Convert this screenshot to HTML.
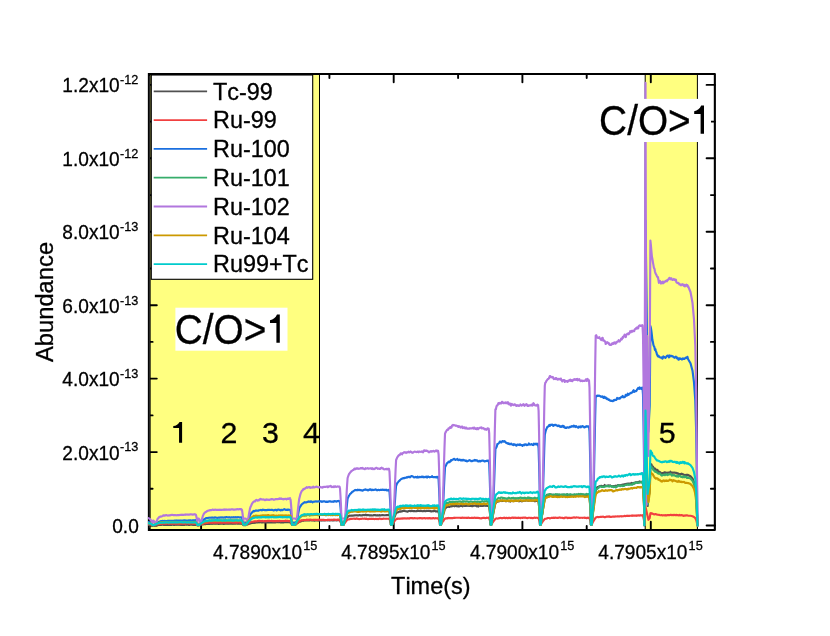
<!DOCTYPE html>
<html><head><meta charset="utf-8"><title>Abundance vs Time</title>
<style>
html,body{margin:0;padding:0;background:#fff;}
body{width:830px;height:636px;overflow:hidden;font-family:"Liberation Sans",sans-serif;}
svg{display:block;will-change:transform;}
svg text{font-family:"Liberation Sans",sans-serif;fill:#000;font-kerning:none;stroke:#000;stroke-width:0.3px;}
</style></head><body>
<svg width="830" height="636" viewBox="0 0 830 636">
<rect x="0" y="0" width="830" height="636" fill="#fff"/>
<!-- shaded regions -->
<rect x="150" y="74" width="169.5" height="456" fill="#FFFF80"/>
<rect x="645" y="74" width="52.4" height="456" fill="#FFFF80"/>
<g stroke="#000" stroke-width="1">
<line x1="319.5" y1="74" x2="319.5" y2="530"/>
<line x1="645.2" y1="74" x2="645.2" y2="530"/>
<line x1="697.4" y1="74" x2="697.4" y2="530"/>
</g>
<!-- ticks -->
<g stroke="#000" stroke-linecap="round">
<line x1="265.5" y1="530.0" x2="265.5" y2="521.8" stroke-width="1.9"/>
<line x1="265.5" y1="74.0" x2="265.5" y2="82.2" stroke-width="1.9"/>
<line x1="393.7" y1="530.0" x2="393.7" y2="521.8" stroke-width="1.9"/>
<line x1="393.7" y1="74.0" x2="393.7" y2="82.2" stroke-width="1.9"/>
<line x1="522.4" y1="530.0" x2="522.4" y2="521.8" stroke-width="1.9"/>
<line x1="522.4" y1="74.0" x2="522.4" y2="82.2" stroke-width="1.9"/>
<line x1="650.8" y1="530.0" x2="650.8" y2="521.8" stroke-width="1.9"/>
<line x1="650.8" y1="74.0" x2="650.8" y2="82.2" stroke-width="1.9"/>
<line x1="201.1" y1="530.0" x2="201.1" y2="526.0" stroke-width="1.9"/>
<line x1="201.1" y1="74.0" x2="201.1" y2="78.0" stroke-width="1.9"/>
<line x1="329.4" y1="530.0" x2="329.4" y2="526.0" stroke-width="1.9"/>
<line x1="329.4" y1="74.0" x2="329.4" y2="78.0" stroke-width="1.9"/>
<line x1="458.1" y1="530.0" x2="458.1" y2="526.0" stroke-width="1.9"/>
<line x1="458.1" y1="74.0" x2="458.1" y2="78.0" stroke-width="1.9"/>
<line x1="586.7" y1="530.0" x2="586.7" y2="526.0" stroke-width="1.9"/>
<line x1="586.7" y1="74.0" x2="586.7" y2="78.0" stroke-width="1.9"/>
<line x1="149.3" y1="525.5" x2="156.8" y2="525.5" stroke-width="1.9"/>
<line x1="714.9" y1="525.5" x2="706.6" y2="525.5" stroke-width="1.9"/>
<line x1="149.3" y1="452.1" x2="156.8" y2="452.1" stroke-width="1.9"/>
<line x1="714.9" y1="452.1" x2="706.6" y2="452.1" stroke-width="1.9"/>
<line x1="149.3" y1="378.6" x2="156.8" y2="378.6" stroke-width="1.9"/>
<line x1="714.9" y1="378.6" x2="706.6" y2="378.6" stroke-width="1.9"/>
<line x1="149.3" y1="305.2" x2="156.8" y2="305.2" stroke-width="1.9"/>
<line x1="714.9" y1="305.2" x2="706.6" y2="305.2" stroke-width="1.9"/>
<line x1="149.3" y1="231.8" x2="156.8" y2="231.8" stroke-width="1.9"/>
<line x1="714.9" y1="231.8" x2="706.6" y2="231.8" stroke-width="1.9"/>
<line x1="149.3" y1="158.3" x2="156.8" y2="158.3" stroke-width="1.9"/>
<line x1="714.9" y1="158.3" x2="706.6" y2="158.3" stroke-width="1.9"/>
<line x1="149.3" y1="84.9" x2="156.8" y2="84.9" stroke-width="1.9"/>
<line x1="714.9" y1="84.9" x2="706.6" y2="84.9" stroke-width="1.9"/>
<line x1="149.3" y1="488.8" x2="152.6" y2="488.8" stroke-width="1.9"/>
<line x1="714.9" y1="488.8" x2="710.9" y2="488.8" stroke-width="1.9"/>
<line x1="149.3" y1="415.4" x2="152.6" y2="415.4" stroke-width="1.9"/>
<line x1="714.9" y1="415.4" x2="710.9" y2="415.4" stroke-width="1.9"/>
<line x1="149.3" y1="341.9" x2="152.6" y2="341.9" stroke-width="1.9"/>
<line x1="714.9" y1="341.9" x2="710.9" y2="341.9" stroke-width="1.9"/>
<line x1="149.3" y1="268.5" x2="152.6" y2="268.5" stroke-width="1.9"/>
<line x1="714.9" y1="268.5" x2="710.9" y2="268.5" stroke-width="1.9"/>
<line x1="149.3" y1="195.1" x2="152.6" y2="195.1" stroke-width="1.9"/>
<line x1="714.9" y1="195.1" x2="710.9" y2="195.1" stroke-width="1.9"/>
<line x1="149.3" y1="121.6" x2="152.6" y2="121.6" stroke-width="1.9"/>
<line x1="714.9" y1="121.6" x2="710.9" y2="121.6" stroke-width="1.9"/>
</g>
<!-- legend -->
<rect x="151.3" y="75" width="161.4" height="204.3" fill="#fff" stroke="#000" stroke-width="1.1"/>
<line x1="153.7" y1="91.3" x2="207.1" y2="91.3" stroke="#515151" stroke-width="1.8"/>
<text x="213.0" y="99.6" font-size="23.4">Tc-99</text>
<line x1="153.7" y1="120.1" x2="207.1" y2="120.1" stroke="#F14040" stroke-width="1.8"/>
<text x="213.0" y="128.4" font-size="23.4">Ru-99</text>
<line x1="153.7" y1="148.9" x2="207.1" y2="148.9" stroke="#1A6FDF" stroke-width="1.8"/>
<text x="213.0" y="157.2" font-size="23.4">Ru-100</text>
<line x1="153.7" y1="177.7" x2="207.1" y2="177.7" stroke="#37AD6B" stroke-width="1.8"/>
<text x="213.0" y="186.0" font-size="23.4">Ru-101</text>
<line x1="153.7" y1="206.5" x2="207.1" y2="206.5" stroke="#B177DE" stroke-width="1.8"/>
<text x="213.0" y="214.8" font-size="23.4">Ru-102</text>
<line x1="153.7" y1="235.3" x2="207.1" y2="235.3" stroke="#CC9900" stroke-width="1.8"/>
<text x="213.0" y="243.6" font-size="23.4">Ru-104</text>
<line x1="153.7" y1="264.1" x2="207.1" y2="264.1" stroke="#00CBCC" stroke-width="1.8"/>
<text x="213.0" y="272.4" font-size="23.4">Ru99+Tc</text>
<!-- frame -->
<g stroke="#000" stroke-linecap="round" fill="none">
<path d="M149.3,74 L714.85,74 L714.85,530 L149.3,530" stroke-width="2.1" stroke-linejoin="round"/>
<line x1="149.25" y1="72.95" x2="149.25" y2="531.05" stroke-width="2.8" stroke-linecap="butt"/>
<line x1="149.4" y1="76" x2="149.4" y2="528" stroke="#484848" stroke-width="0.6" stroke-linecap="butt"/>
</g>
<!-- curves -->
<clipPath id="cp"><rect x="147.9" y="70" width="568" height="461"/></clipPath>
<g clip-path="url(#cp)" fill="none" stroke-width="2.15" stroke-linejoin="round" stroke-linecap="round">
<path d="M148.4,525.0 L150.0,525.1 L151.4,525.2 L152.4,525.4 L153.0,525.4 L153.4,525.4 L153.8,525.4 L154.3,525.4 L154.8,525.3 L155.3,525.2 L155.8,525.2 L156.3,525.1 L156.8,525.1 L157.3,525.1 L157.8,525.1 L158.3,525.0 L158.8,525.0 L159.3,525.0 L159.8,524.8 L160.3,524.9 L160.8,524.9 L161.3,524.9 L161.8,524.8 L162.3,524.7 L162.8,524.7 L163.3,524.8 L163.8,524.8 L164.3,524.8 L164.8,524.8 L165.3,524.8 L165.8,524.8 L166.3,524.8 L166.8,524.8 L167.3,524.9 L167.8,524.9 L168.3,524.9 L168.8,524.8 L169.3,524.8 L169.8,524.8 L170.3,524.8 L170.8,524.8 L171.3,524.8 L171.8,524.8 L172.3,524.7 L172.8,524.7 L173.3,524.8 L173.8,524.8 L174.3,524.8 L174.8,524.8 L175.3,524.7 L175.8,524.8 L176.3,524.8 L176.8,524.7 L177.3,524.7 L177.8,524.8 L178.3,524.7 L178.8,524.8 L179.3,524.8 L179.8,524.7 L180.3,524.8 L180.8,524.8 L181.3,524.9 L181.8,524.9 L182.3,524.9 L182.8,524.8 L183.3,524.8 L183.8,524.8 L184.3,524.8 L184.8,524.8 L185.3,524.7 L185.8,524.7 L186.3,524.7 L186.8,524.8 L187.3,524.7 L187.8,524.7 L188.3,524.8 L188.8,524.8 L189.3,524.9 L189.8,524.7 L190.3,524.6 L190.8,524.7 L191.3,524.7 L191.8,524.7 L192.3,524.8 L192.8,524.9 L193.3,524.8 L193.8,524.8 L194.3,524.8 L194.8,524.9 L195.3,524.9 L195.5,524.8 L196.0,524.8 L196.5,525.0 L197.0,525.1 L197.4,525.4 L197.4,525.3 L198.6,525.3 L199.0,525.3 L199.5,525.2 L200.0,525.0 L200.5,524.9 L201.0,524.8 L201.5,524.7 L202.0,524.5 L202.5,524.4 L203.0,524.4 L203.5,524.2 L204.0,524.1 L204.5,524.1 L205.0,524.0 L205.5,524.1 L206.0,524.0 L206.5,523.9 L207.0,523.9 L207.5,523.9 L208.0,523.9 L208.5,523.9 L209.0,523.8 L209.5,523.8 L210.0,523.9 L210.5,523.8 L211.0,523.7 L211.5,523.8 L212.0,523.9 L212.5,523.8 L213.0,523.7 L213.5,523.7 L214.0,523.7 L214.5,523.7 L215.0,523.8 L215.5,523.7 L216.0,523.8 L216.5,523.7 L217.0,523.7 L217.5,523.7 L218.0,523.8 L218.5,523.8 L219.0,523.8 L219.5,523.8 L220.0,523.7 L220.5,523.8 L221.0,523.7 L221.5,523.7 L222.0,523.7 L222.5,523.7 L223.0,523.8 L223.5,523.8 L224.0,523.8 L224.5,523.8 L225.0,523.7 L225.5,523.7 L226.0,523.7 L226.5,523.7 L227.0,523.7 L227.5,523.7 L228.0,523.8 L228.5,523.6 L229.0,523.5 L229.5,523.6 L230.0,523.7 L230.5,523.7 L231.0,523.6 L231.5,523.7 L232.0,523.7 L232.5,523.6 L233.0,523.8 L233.5,523.7 L234.0,523.7 L234.5,523.6 L235.0,523.6 L235.5,523.6 L236.0,523.5 L236.5,523.5 L237.0,523.6 L237.5,523.5 L238.0,523.6 L238.5,523.7 L239.0,523.7 L239.5,523.7 L240.0,523.6 L240.5,523.6 L241.0,523.6 L241.5,523.6 L242.0,523.7 L242.5,524.1 L243.0,524.5 L243.4,525.1 L243.4,525.1 L245.6,525.1 L246.0,525.1 L246.5,524.9 L247.0,524.6 L247.5,524.4 L248.0,524.2 L248.5,524.0 L249.0,523.8 L249.5,523.6 L250.0,523.6 L250.5,523.3 L251.0,523.1 L251.5,523.1 L252.0,522.9 L252.5,522.8 L253.0,522.8 L253.5,522.8 L254.0,522.6 L254.5,522.8 L255.0,522.5 L255.5,522.6 L256.0,522.5 L256.5,522.5 L257.0,522.5 L257.5,522.5 L258.0,522.5 L258.5,522.3 L259.0,522.2 L259.5,522.3 L260.0,522.3 L260.5,522.2 L261.0,522.2 L261.5,522.4 L262.0,522.4 L262.5,522.5 L263.0,522.3 L263.5,522.3 L264.0,522.2 L264.5,522.3 L265.0,522.5 L265.5,522.3 L266.0,522.5 L266.5,522.5 L267.0,522.4 L267.5,522.2 L268.0,522.4 L268.5,522.3 L269.0,522.3 L269.5,522.3 L270.0,522.3 L270.5,522.4 L271.0,522.3 L271.5,522.4 L272.0,522.5 L272.5,522.5 L273.0,522.4 L273.5,522.3 L274.0,522.4 L274.5,522.3 L275.0,522.3 L275.5,522.4 L276.0,522.3 L276.5,522.1 L277.0,522.1 L277.5,522.0 L278.0,522.2 L278.5,522.3 L279.0,522.2 L279.5,522.2 L280.0,522.3 L280.5,522.3 L281.0,522.4 L281.5,522.3 L282.0,522.4 L282.5,522.4 L283.0,522.5 L283.5,522.3 L284.0,522.3 L284.5,522.1 L285.0,522.1 L285.5,522.0 L286.0,522.2 L286.5,522.1 L287.0,522.2 L287.5,522.2 L288.0,522.2 L288.5,522.1 L289.0,522.2 L289.5,522.3 L290.0,522.3 L290.1,522.2 L290.6,522.4 L291.1,523.0 L291.6,523.9 L292.0,524.8 L292.0,524.9 L294.8,524.9 L295.2,524.9 L295.7,524.4 L296.2,524.0 L296.7,523.6 L297.2,523.2 L297.7,523.0 L298.2,522.5 L298.7,522.2 L299.2,522.0 L299.7,521.8 L300.2,521.5 L300.7,521.4 L301.2,521.2 L301.7,520.9 L302.2,520.7 L302.7,520.7 L303.2,520.8 L303.7,520.6 L304.2,520.5 L304.7,520.5 L305.2,520.3 L305.7,520.4 L306.2,520.3 L306.7,520.5 L307.2,520.2 L307.7,520.4 L308.2,520.3 L308.7,520.2 L309.2,520.4 L309.7,520.4 L310.2,520.2 L310.7,520.2 L311.2,520.3 L311.7,520.3 L312.2,520.4 L312.7,520.5 L313.2,520.5 L313.7,520.5 L314.2,520.6 L314.7,520.6 L315.2,520.5 L315.7,520.2 L316.2,520.4 L316.7,520.5 L317.2,520.4 L317.7,520.3 L318.2,520.6 L318.7,520.3 L319.2,520.4 L319.7,520.6 L320.2,520.4 L320.7,520.4 L321.2,520.6 L321.7,520.4 L322.2,520.4 L322.7,520.5 L323.2,520.3 L323.7,520.3 L324.2,520.3 L324.7,520.4 L325.2,520.4 L325.7,520.3 L326.2,520.2 L326.7,520.2 L327.2,520.3 L327.7,520.3 L328.2,520.2 L328.7,520.2 L329.2,520.5 L329.7,520.5 L330.2,520.5 L330.7,520.1 L331.2,520.2 L331.7,520.3 L332.2,520.5 L332.7,520.4 L333.2,520.3 L333.7,520.3 L334.2,520.1 L334.7,520.3 L335.2,520.3 L335.7,520.2 L336.2,520.3 L336.7,520.5 L337.2,520.2 L337.7,520.1 L338.2,520.2 L338.7,520.2 L339.2,520.2 L339.5,520.2 L340.0,520.5 L340.5,521.5 L341.0,522.9 L341.4,524.4 L341.4,524.7 L343.2,524.7 L343.6,524.7 L344.1,523.4 L344.6,522.3 L345.1,521.2 L345.6,520.1 L346.1,519.4 L346.6,518.5 L347.1,517.8 L347.6,516.9 L348.1,516.4 L348.6,516.2 L349.1,515.7 L349.6,515.6 L350.1,515.7 L350.6,515.7 L351.1,515.5 L351.6,515.5 L352.1,515.6 L352.6,515.6 L353.1,515.6 L353.6,515.5 L354.1,515.4 L354.6,515.5 L355.1,515.4 L355.6,515.3 L356.1,515.2 L356.6,515.3 L357.1,515.3 L357.6,515.3 L358.1,515.3 L358.6,515.3 L359.1,515.3 L359.6,515.1 L360.1,515.3 L360.6,515.4 L361.1,515.4 L361.6,515.3 L362.1,515.4 L362.6,515.2 L363.1,514.9 L363.6,515.1 L364.1,515.0 L364.6,515.2 L365.1,515.1 L365.6,514.7 L366.1,514.8 L366.6,515.3 L367.1,515.2 L367.6,515.0 L368.1,515.0 L368.6,515.2 L369.1,515.3 L369.6,515.2 L370.1,515.4 L370.6,515.4 L371.1,515.3 L371.6,515.3 L372.1,515.5 L372.6,515.5 L373.1,515.5 L373.6,515.1 L374.1,515.1 L374.6,515.2 L375.1,515.1 L375.6,515.3 L376.1,515.3 L376.6,515.3 L377.1,515.2 L377.6,515.5 L378.1,515.5 L378.6,515.3 L379.1,515.2 L379.6,515.5 L380.1,515.3 L380.6,515.3 L381.1,515.3 L381.6,515.2 L382.1,515.0 L382.6,515.0 L383.1,515.1 L383.6,515.2 L384.1,515.3 L384.6,515.2 L385.1,515.2 L385.6,515.2 L386.1,515.1 L386.6,515.1 L387.1,515.0 L387.6,515.1 L388.1,514.9 L388.6,514.9 L389.0,515.0 L389.5,515.5 L390.0,517.6 L390.5,520.2 L390.9,523.4 L390.9,524.7 L391.7,524.7 L392.1,524.7 L392.6,522.6 L393.1,521.0 L393.6,519.4 L394.1,518.0 L394.6,516.8 L395.1,515.6 L395.6,514.3 L396.1,513.0 L396.6,512.4 L397.1,512.6 L397.6,512.4 L398.1,512.3 L398.6,511.9 L399.1,511.7 L399.6,511.3 L400.1,511.6 L400.6,511.7 L401.1,511.2 L401.6,511.3 L402.1,511.4 L402.6,511.1 L403.1,510.9 L403.6,510.9 L404.1,511.0 L404.6,510.9 L405.1,511.1 L405.6,511.2 L406.1,511.3 L406.6,511.4 L407.1,511.6 L407.6,511.6 L408.1,511.2 L408.6,511.1 L409.1,511.0 L409.6,510.9 L410.1,511.0 L410.6,511.1 L411.1,511.2 L411.6,510.9 L412.1,510.8 L412.6,511.0 L413.1,511.1 L413.6,511.1 L414.1,511.1 L414.6,511.0 L415.1,511.2 L415.6,511.2 L416.1,511.2 L416.6,511.0 L417.1,511.1 L417.6,510.6 L418.1,510.7 L418.6,510.9 L419.1,510.8 L419.6,511.0 L420.1,511.1 L420.6,510.9 L421.1,510.9 L421.6,511.0 L422.1,511.1 L422.6,511.2 L423.1,511.2 L423.6,511.0 L424.1,511.0 L424.6,511.0 L425.1,511.2 L425.6,511.2 L426.1,511.0 L426.6,510.8 L427.1,510.9 L427.6,510.8 L428.1,510.8 L428.6,510.9 L429.1,510.9 L429.6,511.0 L430.1,511.1 L430.6,511.0 L431.1,511.4 L431.6,511.2 L432.1,511.3 L432.6,511.2 L433.1,511.3 L433.6,510.7 L434.1,510.7 L434.6,510.9 L435.1,511.1 L435.6,511.5 L436.1,511.3 L436.6,511.4 L437.1,511.3 L437.6,511.3 L438.1,511.3 L438.1,511.0 L438.6,511.7 L439.1,514.6 L439.6,518.2 L440.0,522.6 L440.0,524.7 L440.6,524.7 L441.0,524.7 L441.5,521.9 L442.0,519.6 L442.5,517.7 L443.0,515.6 L443.5,513.7 L444.0,512.2 L444.5,510.2 L445.0,508.4 L445.5,508.2 L446.0,507.7 L446.5,507.2 L447.0,507.0 L447.5,506.9 L448.0,506.9 L448.5,506.5 L449.0,506.8 L449.5,506.9 L450.0,506.5 L450.5,506.4 L451.0,506.2 L451.5,506.4 L452.0,506.1 L452.5,506.2 L453.0,506.0 L453.5,505.9 L454.0,506.1 L454.5,506.3 L455.0,506.1 L455.5,505.9 L456.0,506.1 L456.5,506.0 L457.0,506.1 L457.5,506.3 L458.0,506.4 L458.5,506.0 L459.0,506.5 L459.5,506.2 L460.0,506.2 L460.5,505.9 L461.0,505.9 L461.5,505.6 L462.0,506.1 L462.5,506.3 L463.0,505.9 L463.5,505.6 L464.0,505.4 L464.5,505.9 L465.0,505.8 L465.5,505.8 L466.0,505.8 L466.5,505.8 L467.0,505.6 L467.5,505.8 L468.0,505.5 L468.5,505.7 L469.0,505.9 L469.5,506.0 L470.0,505.9 L470.5,505.7 L471.0,505.8 L471.5,505.7 L472.0,506.1 L472.5,506.2 L473.0,506.0 L473.5,505.8 L474.0,505.7 L474.5,505.6 L475.0,505.6 L475.5,505.8 L476.0,505.9 L476.5,506.0 L477.0,506.4 L477.5,506.0 L478.0,505.9 L478.5,506.5 L479.0,505.8 L479.5,505.7 L480.0,505.8 L480.5,505.9 L481.0,505.9 L481.5,505.8 L482.0,505.9 L482.5,505.9 L483.0,506.0 L483.5,505.5 L484.0,505.5 L484.5,505.6 L485.0,505.5 L485.5,505.4 L486.0,505.8 L486.5,505.6 L487.0,505.9 L487.5,506.0 L488.0,506.0 L488.5,506.0 L488.7,505.8 L489.2,506.8 L489.7,510.7 L490.2,515.6 L490.6,521.6 L490.6,524.7 L491.0,524.7 L491.4,524.7 L491.9,520.9 L492.4,518.0 L492.9,515.3 L493.4,512.6 L493.9,510.1 L494.4,507.9 L494.9,505.3 L495.4,503.1 L495.9,503.0 L496.4,502.2 L496.9,501.9 L497.4,501.5 L497.9,501.7 L498.4,501.4 L498.9,501.4 L499.4,500.9 L499.9,500.9 L500.4,500.8 L500.9,500.4 L501.4,500.9 L501.9,501.1 L502.4,500.5 L502.9,500.9 L503.4,500.8 L503.9,501.0 L504.4,501.0 L504.9,500.6 L505.4,500.8 L505.9,501.3 L506.4,501.0 L506.9,500.8 L507.4,500.5 L507.9,500.5 L508.4,500.8 L508.9,501.3 L509.4,501.2 L509.9,501.2 L510.4,501.6 L510.9,501.1 L511.4,500.9 L511.9,501.0 L512.4,501.1 L512.9,500.8 L513.4,500.5 L513.9,500.8 L514.4,500.9 L514.9,500.6 L515.4,500.7 L515.9,500.6 L516.4,500.9 L516.9,500.8 L517.4,500.8 L517.9,500.7 L518.4,501.1 L518.9,501.3 L519.4,501.0 L519.9,501.1 L520.4,500.8 L520.9,500.8 L521.4,501.0 L521.9,501.3 L522.4,500.9 L522.9,500.8 L523.4,500.9 L523.9,500.5 L524.4,500.6 L524.9,500.5 L525.4,500.7 L525.9,500.5 L526.4,500.1 L526.9,500.4 L527.4,500.6 L527.9,500.6 L528.4,500.8 L528.9,500.7 L529.4,500.6 L529.9,500.7 L530.4,500.3 L530.9,500.3 L531.4,500.5 L531.9,500.8 L532.4,500.7 L532.9,500.7 L533.4,500.5 L533.9,500.7 L534.4,501.1 L534.9,500.7 L535.4,501.2 L535.9,500.8 L536.4,500.7 L536.9,500.7 L537.4,500.9 L537.9,500.4 L538.1,500.6 L538.6,501.8 L539.1,506.8 L539.6,513.0 L540.0,520.5 L540.0,524.7 L540.4,524.7 L540.8,524.6 L541.3,520.1 L541.8,516.5 L542.3,513.1 L542.8,510.2 L543.3,506.9 L543.8,503.8 L544.3,501.0 L544.8,498.0 L545.3,497.7 L545.8,496.5 L546.3,496.0 L546.8,494.8 L547.3,495.3 L547.8,495.1 L548.3,495.3 L548.8,495.7 L549.3,495.3 L549.8,495.0 L550.3,494.8 L550.8,494.6 L551.3,494.5 L551.8,494.8 L552.3,494.9 L552.8,494.9 L553.3,494.8 L553.8,495.1 L554.3,495.2 L554.8,495.0 L555.3,495.2 L555.8,495.1 L556.3,494.8 L556.8,495.3 L557.3,495.3 L557.8,494.9 L558.3,495.2 L558.8,495.2 L559.3,494.7 L559.8,495.3 L560.3,495.2 L560.8,495.3 L561.3,495.2 L561.8,495.0 L562.3,494.6 L562.8,495.0 L563.3,495.0 L563.8,494.9 L564.3,495.0 L564.8,495.0 L565.3,495.2 L565.8,494.9 L566.3,494.9 L566.8,494.4 L567.3,494.5 L567.8,494.9 L568.3,495.3 L568.8,495.0 L569.3,494.9 L569.8,495.3 L570.3,495.0 L570.8,495.2 L571.3,495.5 L571.8,495.2 L572.3,495.4 L572.8,494.9 L573.3,495.0 L573.8,494.9 L574.3,494.9 L574.8,495.2 L575.3,495.7 L575.8,495.1 L576.3,494.8 L576.8,495.0 L577.3,494.6 L577.8,494.9 L578.3,495.0 L578.8,494.9 L579.3,495.0 L579.8,494.5 L580.3,494.9 L580.8,494.4 L581.3,494.5 L581.8,494.5 L582.3,494.6 L582.8,494.9 L583.3,494.9 L583.8,494.8 L584.3,494.9 L584.8,495.3 L585.3,495.1 L585.8,495.0 L586.3,495.3 L586.8,495.1 L587.3,494.6 L587.8,495.4 L588.3,495.7 L588.8,494.7 L589.0,494.8 L589.5,496.3 L590.0,502.5 L590.5,510.1 L590.9,519.4 L590.9,524.7 L591.3,524.7 L591.7,524.7 L592.2,518.8 L592.7,514.2 L593.2,509.9 L593.7,505.6 L594.2,501.4 L594.7,497.6 L595.2,494.1 L595.7,490.0 L596.2,488.9 L596.7,488.4 L597.2,487.3 L597.7,487.1 L598.2,486.8 L598.7,486.8 L599.2,486.4 L599.7,486.0 L600.2,486.0 L600.7,486.0 L601.2,485.8 L601.7,485.8 L602.2,486.1 L602.7,486.3 L603.2,486.6 L603.7,486.0 L604.2,485.7 L604.7,485.0 L605.2,486.0 L605.7,485.7 L606.2,485.7 L606.7,485.9 L607.2,485.5 L607.7,485.8 L608.2,485.8 L608.7,485.3 L609.2,485.7 L609.7,486.1 L610.2,485.4 L610.7,485.9 L611.2,486.0 L611.7,486.1 L612.2,486.2 L612.7,486.5 L613.2,486.1 L613.7,486.3 L614.2,486.0 L614.7,486.2 L615.2,485.8 L615.7,485.7 L616.2,486.2 L616.7,486.0 L617.2,485.7 L617.7,485.2 L618.2,485.0 L618.7,485.2 L619.2,485.5 L619.7,485.4 L620.2,485.4 L620.7,485.1 L621.2,485.4 L621.7,485.0 L622.2,484.7 L622.7,484.9 L623.2,484.7 L623.7,484.5 L624.2,484.3 L624.7,484.2 L625.2,484.4 L625.7,484.4 L626.2,483.8 L626.7,484.0 L627.2,484.0 L627.7,483.6 L628.2,483.9 L628.7,483.7 L629.2,483.5 L629.7,483.7 L630.2,484.0 L630.7,483.4 L631.2,483.5 L631.7,483.0 L632.2,483.8 L632.7,483.2 L633.2,483.4 L633.7,482.9 L634.2,483.1 L634.7,483.6 L635.2,482.3 L635.7,482.3 L636.2,482.5 L636.7,482.4 L637.2,482.1 L637.7,482.8 L638.2,482.5 L638.7,481.8 L639.2,482.1 L639.7,481.5 L640.2,482.0 L640.7,481.7 L641.2,481.7 L641.7,482.0 L642.2,481.8 L642.5,481.5 L643.0,483.7 L643.5,492.5 L644.0,503.5 L644.4,516.7 L644.3,525.3 L645.5,430.5 L647.6,506.0 L649.7,488.6 L650.4,464.0 L650.9,464.2 L651.4,464.3 L651.9,465.7 L652.4,466.5 L652.9,466.6 L653.4,467.5 L653.9,468.2 L654.4,468.8 L654.9,468.4 L655.4,468.9 L655.9,469.7 L656.4,470.2 L656.9,470.7 L657.4,469.9 L657.9,470.6 L658.4,471.2 L658.9,472.4 L659.4,471.9 L659.9,472.0 L660.4,472.4 L660.9,473.0 L661.4,473.0 L661.9,473.6 L662.4,473.1 L662.9,473.2 L663.4,472.9 L663.9,473.0 L664.4,472.7 L664.9,472.2 L665.4,472.9 L665.9,473.0 L666.4,472.7 L666.9,472.8 L667.4,473.1 L667.9,472.5 L668.4,472.5 L668.9,472.7 L669.4,472.8 L669.9,472.5 L670.4,471.7 L670.9,472.5 L671.4,472.6 L671.9,472.6 L672.4,472.6 L672.9,472.8 L673.4,472.7 L673.9,472.5 L674.4,472.6 L674.9,472.7 L675.4,472.8 L675.9,472.7 L676.4,473.3 L676.9,473.0 L677.4,473.6 L677.9,473.3 L678.4,473.7 L678.9,474.3 L679.4,474.3 L679.9,474.0 L680.4,474.1 L680.9,474.3 L681.4,473.7 L681.9,473.8 L682.4,474.2 L682.9,474.2 L683.4,474.4 L683.9,474.8 L684.4,475.0 L684.9,475.2 L685.4,475.2 L685.9,474.9 L686.4,474.9 L686.9,474.8 L687.4,474.8 L687.9,474.9 L688.0,475.0 L690.5,476.3 L692.5,478.5 L694.0,482.1 L695.3,487.6 L696.2,497.2 L696.8,509.3 L697.3,521.5 L697.6,525.5" stroke="#515151"/>
<path d="M148.4,524.2 L150.0,524.3 L151.4,524.6 L152.4,525.1 L153.0,525.3 L153.4,525.3 L153.8,525.3 L154.3,525.1 L154.8,525.0 L155.3,524.8 L155.8,524.7 L156.3,524.6 L156.8,524.5 L157.3,524.5 L157.8,524.2 L158.3,524.1 L158.8,523.9 L159.3,523.9 L159.8,524.1 L160.3,523.8 L160.8,523.8 L161.3,523.8 L161.8,523.7 L162.3,523.7 L162.8,523.5 L163.3,523.7 L163.8,523.7 L164.3,523.7 L164.8,523.6 L165.3,523.7 L165.8,523.6 L166.3,523.6 L166.8,523.6 L167.3,523.4 L167.8,523.5 L168.3,523.6 L168.8,523.6 L169.3,523.6 L169.8,523.6 L170.3,523.6 L170.8,523.6 L171.3,523.7 L171.8,523.8 L172.3,523.6 L172.8,523.5 L173.3,523.6 L173.8,523.7 L174.3,523.7 L174.8,523.7 L175.3,523.6 L175.8,523.6 L176.3,523.6 L176.8,523.6 L177.3,523.5 L177.8,523.5 L178.3,523.7 L178.8,523.8 L179.3,523.6 L179.8,523.6 L180.3,523.6 L180.8,523.6 L181.3,523.7 L181.8,523.6 L182.3,523.5 L182.8,523.7 L183.3,523.6 L183.8,523.6 L184.3,523.6 L184.8,523.6 L185.3,523.6 L185.8,523.6 L186.3,523.5 L186.8,523.4 L187.3,523.4 L187.8,523.5 L188.3,523.5 L188.8,523.6 L189.3,523.6 L189.8,523.6 L190.3,523.6 L190.8,523.5 L191.3,523.4 L191.8,523.5 L192.3,523.6 L192.8,523.6 L193.3,523.6 L193.8,523.6 L194.3,523.7 L194.8,523.6 L195.3,523.7 L195.5,523.6 L196.0,523.7 L196.5,524.1 L197.0,524.5 L197.4,525.1 L197.4,525.2 L198.6,525.2 L199.0,525.2 L199.5,524.9 L200.0,524.7 L200.5,524.5 L201.0,524.3 L201.5,524.1 L202.0,523.9 L202.5,523.8 L203.0,523.8 L203.5,523.5 L204.0,523.4 L204.5,523.3 L205.0,523.2 L205.5,523.1 L206.0,522.9 L206.5,522.8 L207.0,522.8 L207.5,522.9 L208.0,522.8 L208.5,522.7 L209.0,522.6 L209.5,522.6 L210.0,522.5 L210.5,522.7 L211.0,522.6 L211.5,522.6 L212.0,522.8 L212.5,522.8 L213.0,522.7 L213.5,522.6 L214.0,522.6 L214.5,522.8 L215.0,522.7 L215.5,522.8 L216.0,522.7 L216.5,522.7 L217.0,522.6 L217.5,522.7 L218.0,522.7 L218.5,522.5 L219.0,522.6 L219.5,522.6 L220.0,522.6 L220.5,522.6 L221.0,522.6 L221.5,522.8 L222.0,522.7 L222.5,522.7 L223.0,522.5 L223.5,522.7 L224.0,522.7 L224.5,522.6 L225.0,522.5 L225.5,522.6 L226.0,522.5 L226.5,522.6 L227.0,522.6 L227.5,522.6 L228.0,522.6 L228.5,522.5 L229.0,522.7 L229.5,522.6 L230.0,522.4 L230.5,522.5 L231.0,522.5 L231.5,522.5 L232.0,522.5 L232.5,522.6 L233.0,522.5 L233.5,522.5 L234.0,522.7 L234.5,522.7 L235.0,522.6 L235.5,522.6 L236.0,522.6 L236.5,522.6 L237.0,522.7 L237.5,522.6 L238.0,522.4 L238.5,522.5 L239.0,522.5 L239.5,522.6 L240.0,522.5 L240.5,522.6 L241.0,522.8 L241.5,522.6 L242.0,522.7 L242.5,523.3 L243.0,524.0 L243.4,524.9 L243.4,525.0 L245.6,525.0 L246.0,525.0 L246.5,524.5 L247.0,524.2 L247.5,523.8 L248.0,523.5 L248.5,523.3 L249.0,523.0 L249.5,522.6 L250.0,522.3 L250.5,522.2 L251.0,521.9 L251.5,521.7 L252.0,521.7 L252.5,521.7 L253.0,521.7 L253.5,521.6 L254.0,521.4 L254.5,521.3 L255.0,521.4 L255.5,521.4 L256.0,521.2 L256.5,521.2 L257.0,521.2 L257.5,521.1 L258.0,521.0 L258.5,520.9 L259.0,520.9 L259.5,520.8 L260.0,521.0 L260.5,521.1 L261.0,520.9 L261.5,521.1 L262.0,521.1 L262.5,520.9 L263.0,521.1 L263.5,521.2 L264.0,521.3 L264.5,521.0 L265.0,521.1 L265.5,521.1 L266.0,521.1 L266.5,521.0 L267.0,521.1 L267.5,520.9 L268.0,520.8 L268.5,520.8 L269.0,520.8 L269.5,520.9 L270.0,521.0 L270.5,521.0 L271.0,521.0 L271.5,520.9 L272.0,520.9 L272.5,521.1 L273.0,521.1 L273.5,521.1 L274.0,521.0 L274.5,521.2 L275.0,521.0 L275.5,521.1 L276.0,521.2 L276.5,521.1 L277.0,521.1 L277.5,520.9 L278.0,521.1 L278.5,521.1 L279.0,520.9 L279.5,521.0 L280.0,520.9 L280.5,521.1 L281.0,521.0 L281.5,521.0 L282.0,521.0 L282.5,521.0 L283.0,521.0 L283.5,521.0 L284.0,521.0 L284.5,521.0 L285.0,521.0 L285.5,520.7 L286.0,521.0 L286.5,521.0 L287.0,520.8 L287.5,520.9 L288.0,521.0 L288.5,521.1 L289.0,520.9 L289.5,521.1 L290.0,521.0 L290.1,521.0 L290.6,521.2 L291.1,522.1 L291.6,523.2 L292.0,524.6 L292.0,524.8 L294.8,524.8 L295.2,524.8 L295.7,524.3 L296.2,523.8 L296.7,523.4 L297.2,522.9 L297.7,522.6 L298.2,522.3 L298.7,522.1 L299.2,521.7 L299.7,521.2 L300.2,520.8 L300.7,520.6 L301.2,520.4 L301.7,520.2 L302.2,520.3 L302.7,520.2 L303.2,520.1 L303.7,520.1 L304.2,520.0 L304.7,520.0 L305.2,520.0 L305.7,520.1 L306.2,519.9 L306.7,519.7 L307.2,519.9 L307.7,519.9 L308.2,520.0 L308.7,519.7 L309.2,519.7 L309.7,519.8 L310.2,519.6 L310.7,519.7 L311.2,519.8 L311.7,519.9 L312.2,520.1 L312.7,519.8 L313.2,519.7 L313.7,519.8 L314.2,519.9 L314.7,519.9 L315.2,519.7 L315.7,519.8 L316.2,519.9 L316.7,519.9 L317.2,519.8 L317.7,519.8 L318.2,519.9 L318.7,519.8 L319.2,519.6 L319.7,519.7 L320.2,519.8 L320.7,519.8 L321.2,519.9 L321.7,519.8 L322.2,519.8 L322.7,519.8 L323.2,519.8 L323.7,520.0 L324.2,519.9 L324.7,520.1 L325.2,520.1 L325.7,520.0 L326.2,520.0 L326.7,520.1 L327.2,519.9 L327.7,519.9 L328.2,519.7 L328.7,519.8 L329.2,520.0 L329.7,519.9 L330.2,519.9 L330.7,519.8 L331.2,519.8 L331.7,519.7 L332.2,519.8 L332.7,519.8 L333.2,519.7 L333.7,519.6 L334.2,519.6 L334.7,519.8 L335.2,519.9 L335.7,519.7 L336.2,519.9 L336.7,519.9 L337.2,519.8 L337.7,519.6 L338.2,519.6 L338.7,519.6 L339.2,519.8 L339.5,519.8 L340.0,520.1 L340.5,521.2 L341.0,522.6 L341.4,524.4 L341.4,524.7 L343.2,524.7 L343.6,524.7 L344.1,523.8 L344.6,523.1 L345.1,522.4 L345.6,521.9 L346.1,521.2 L346.6,520.6 L347.1,520.0 L347.6,519.5 L348.1,519.5 L348.6,519.5 L349.1,519.4 L349.6,519.3 L350.1,518.9 L350.6,518.9 L351.1,518.9 L351.6,518.8 L352.1,518.9 L352.6,518.8 L353.1,518.7 L353.6,518.7 L354.1,518.5 L354.6,518.7 L355.1,518.9 L355.6,518.9 L356.1,518.7 L356.6,518.4 L357.1,518.6 L357.6,518.9 L358.1,518.9 L358.6,519.0 L359.1,519.1 L359.6,519.1 L360.1,518.9 L360.6,519.0 L361.1,519.0 L361.6,518.7 L362.1,518.7 L362.6,518.6 L363.1,518.7 L363.6,518.8 L364.1,518.7 L364.6,518.5 L365.1,518.8 L365.6,518.8 L366.1,519.0 L366.6,518.7 L367.1,518.9 L367.6,519.1 L368.1,519.2 L368.6,519.0 L369.1,518.9 L369.6,518.8 L370.1,518.9 L370.6,519.0 L371.1,518.9 L371.6,518.7 L372.1,518.8 L372.6,518.8 L373.1,518.9 L373.6,518.9 L374.1,519.0 L374.6,519.1 L375.1,518.9 L375.6,518.9 L376.1,519.1 L376.6,518.9 L377.1,518.9 L377.6,519.0 L378.1,519.1 L378.6,519.0 L379.1,518.7 L379.6,518.6 L380.1,518.7 L380.6,518.8 L381.1,519.1 L381.6,518.9 L382.1,519.0 L382.6,519.0 L383.1,518.7 L383.6,518.6 L384.1,518.7 L384.6,518.7 L385.1,518.7 L385.6,518.8 L386.1,518.7 L386.6,518.8 L387.1,518.7 L387.6,518.7 L388.1,518.8 L388.6,518.7 L389.0,518.8 L389.5,519.1 L390.0,520.5 L390.5,522.1 L390.9,524.2 L390.9,524.6 L391.7,524.6 L392.1,524.6 L392.6,523.7 L393.1,523.0 L393.6,522.3 L394.1,521.7 L394.6,521.0 L395.1,520.4 L395.6,519.7 L396.1,519.2 L396.6,519.0 L397.1,518.7 L397.6,518.9 L398.1,518.6 L398.6,518.8 L399.1,518.7 L399.6,518.8 L400.1,518.5 L400.6,518.6 L401.1,518.7 L401.6,518.5 L402.1,518.4 L402.6,518.7 L403.1,518.5 L403.6,518.4 L404.1,518.3 L404.6,518.4 L405.1,518.4 L405.6,518.4 L406.1,518.6 L406.6,518.4 L407.1,518.4 L407.6,518.5 L408.1,518.3 L408.6,518.4 L409.1,518.6 L409.6,518.3 L410.1,518.1 L410.6,518.1 L411.1,518.0 L411.6,518.2 L412.1,518.0 L412.6,518.2 L413.1,518.4 L413.6,518.2 L414.1,518.2 L414.6,518.0 L415.1,518.3 L415.6,518.2 L416.1,518.2 L416.6,518.3 L417.1,518.4 L417.6,518.3 L418.1,518.3 L418.6,518.2 L419.1,518.3 L419.6,518.1 L420.1,518.2 L420.6,518.0 L421.1,518.1 L421.6,518.4 L422.1,518.4 L422.6,518.2 L423.1,518.3 L423.6,518.2 L424.1,518.0 L424.6,518.1 L425.1,518.3 L425.6,518.3 L426.1,518.3 L426.6,518.2 L427.1,518.1 L427.6,518.4 L428.1,518.4 L428.6,518.2 L429.1,518.0 L429.6,518.0 L430.1,518.5 L430.6,518.2 L431.1,518.3 L431.6,518.3 L432.1,518.3 L432.6,518.3 L433.1,518.1 L433.6,518.1 L434.1,518.4 L434.6,518.3 L435.1,518.4 L435.6,518.1 L436.1,518.2 L436.6,518.3 L437.1,518.4 L437.6,518.2 L438.1,518.3 L438.1,518.3 L438.6,518.7 L439.1,520.1 L439.6,521.9 L440.0,524.1 L440.0,524.6 L440.6,524.6 L441.0,524.6 L441.5,523.6 L442.0,522.8 L442.5,522.0 L443.0,521.3 L443.5,520.7 L444.0,519.8 L444.5,519.3 L445.0,518.6 L445.5,518.3 L446.0,518.3 L446.5,518.4 L447.0,518.2 L447.5,518.4 L448.0,518.1 L448.5,517.9 L449.0,518.2 L449.5,518.1 L450.0,518.2 L450.5,518.0 L451.0,518.1 L451.5,518.0 L452.0,518.1 L452.5,518.0 L453.0,518.1 L453.5,517.9 L454.0,517.8 L454.5,517.7 L455.0,517.9 L455.5,517.8 L456.0,517.7 L456.5,517.7 L457.0,517.7 L457.5,517.7 L458.0,517.7 L458.5,517.7 L459.0,517.7 L459.5,517.7 L460.0,517.8 L460.5,517.8 L461.0,517.9 L461.5,517.9 L462.0,518.0 L462.5,517.6 L463.0,517.7 L463.5,517.7 L464.0,517.9 L464.5,517.7 L465.0,517.7 L465.5,517.8 L466.0,517.8 L466.5,518.0 L467.0,517.9 L467.5,518.0 L468.0,517.8 L468.5,517.6 L469.0,517.9 L469.5,518.0 L470.0,518.0 L470.5,518.0 L471.0,518.0 L471.5,517.8 L472.0,518.0 L472.5,517.9 L473.0,518.0 L473.5,518.0 L474.0,517.7 L474.5,517.6 L475.0,517.9 L475.5,517.9 L476.0,517.8 L476.5,517.9 L477.0,517.8 L477.5,517.8 L478.0,517.9 L478.5,517.9 L479.0,518.1 L479.5,518.0 L480.0,518.2 L480.5,518.3 L481.0,518.3 L481.5,518.3 L482.0,518.1 L482.5,518.0 L483.0,517.9 L483.5,517.8 L484.0,517.9 L484.5,517.8 L485.0,518.1 L485.5,518.1 L486.0,517.9 L486.5,517.7 L487.0,517.8 L487.5,517.8 L488.0,517.7 L488.5,517.6 L488.7,517.9 L489.2,518.3 L489.7,519.8 L490.2,521.7 L490.6,524.0 L490.6,524.6 L491.0,524.6 L491.4,524.6 L491.9,523.6 L492.4,522.8 L492.9,522.2 L493.4,521.5 L493.9,520.7 L494.4,520.2 L494.9,519.5 L495.4,518.9 L495.9,518.6 L496.4,518.4 L496.9,518.5 L497.4,518.5 L497.9,518.6 L498.4,518.3 L498.9,518.2 L499.4,518.0 L499.9,518.1 L500.4,517.9 L500.9,518.0 L501.4,518.1 L501.9,518.2 L502.4,518.0 L502.9,518.1 L503.4,517.9 L503.9,517.8 L504.4,517.7 L504.9,518.0 L505.4,518.2 L505.9,518.0 L506.4,517.8 L506.9,517.8 L507.4,518.2 L507.9,518.2 L508.4,518.0 L508.9,517.7 L509.4,517.7 L509.9,518.0 L510.4,518.2 L510.9,518.0 L511.4,517.9 L511.9,517.8 L512.4,517.6 L512.9,517.9 L513.4,517.7 L513.9,518.0 L514.4,517.7 L514.9,517.6 L515.4,517.8 L515.9,517.8 L516.4,517.9 L516.9,517.9 L517.4,517.8 L517.9,517.9 L518.4,518.0 L518.9,517.7 L519.4,518.0 L519.9,518.0 L520.4,518.1 L520.9,517.7 L521.4,517.7 L521.9,517.8 L522.4,518.0 L522.9,517.7 L523.4,517.7 L523.9,517.5 L524.4,517.7 L524.9,517.8 L525.4,517.6 L525.9,517.7 L526.4,517.9 L526.9,518.1 L527.4,518.1 L527.9,518.0 L528.4,517.8 L528.9,517.7 L529.4,517.7 L529.9,517.8 L530.4,517.9 L530.9,518.1 L531.4,518.0 L531.9,517.8 L532.4,518.1 L532.9,518.1 L533.4,518.0 L533.9,517.9 L534.4,517.6 L534.9,517.6 L535.4,517.9 L535.9,517.8 L536.4,517.7 L536.9,517.8 L537.4,517.9 L537.9,518.0 L538.1,517.9 L538.6,518.3 L539.1,519.8 L539.6,521.7 L540.0,524.0 L540.0,524.6 L540.4,524.6 L540.8,524.6 L541.3,523.6 L541.8,522.8 L542.3,522.1 L542.8,521.4 L543.3,520.7 L543.8,520.1 L544.3,519.5 L544.8,519.0 L545.3,518.7 L545.8,518.7 L546.3,518.6 L546.8,518.4 L547.3,518.2 L547.8,518.0 L548.3,518.0 L548.8,518.0 L549.3,518.0 L549.8,518.4 L550.3,518.2 L550.8,518.2 L551.3,517.9 L551.8,517.8 L552.3,517.8 L552.8,517.9 L553.3,517.7 L553.8,518.0 L554.3,517.9 L554.8,518.0 L555.3,517.6 L555.8,517.7 L556.3,517.8 L556.8,517.9 L557.3,517.9 L557.8,517.9 L558.3,517.9 L558.8,517.6 L559.3,517.6 L559.8,517.4 L560.3,517.7 L560.8,517.8 L561.3,517.8 L561.8,517.7 L562.3,517.7 L562.8,518.0 L563.3,518.1 L563.8,518.0 L564.3,518.1 L564.8,517.7 L565.3,517.5 L565.8,517.6 L566.3,517.6 L566.8,517.6 L567.3,517.7 L567.8,518.2 L568.3,517.9 L568.8,517.8 L569.3,517.9 L569.8,517.8 L570.3,517.9 L570.8,518.1 L571.3,517.8 L571.8,517.8 L572.3,517.7 L572.8,517.8 L573.3,517.6 L573.8,517.4 L574.3,517.3 L574.8,517.6 L575.3,517.7 L575.8,517.7 L576.3,517.4 L576.8,517.5 L577.3,517.5 L577.8,517.5 L578.3,517.5 L578.8,517.7 L579.3,517.8 L579.8,517.8 L580.3,517.8 L580.8,517.7 L581.3,517.7 L581.8,517.7 L582.3,517.8 L582.8,517.8 L583.3,517.7 L583.8,517.7 L584.3,517.6 L584.8,518.0 L585.3,517.9 L585.8,517.9 L586.3,518.1 L586.8,518.1 L587.3,517.7 L587.8,517.8 L588.3,517.9 L588.8,518.0 L589.0,517.7 L589.5,518.1 L590.0,519.7 L590.5,521.6 L590.9,523.9 L590.9,524.7 L591.3,524.7 L591.7,524.7 L592.2,523.6 L592.7,522.5 L593.2,521.6 L593.7,520.8 L594.2,520.0 L594.7,519.1 L595.2,518.3 L595.7,517.6 L596.2,517.4 L596.7,517.3 L597.2,517.1 L597.7,516.9 L598.2,517.1 L598.7,517.2 L599.2,517.0 L599.7,517.0 L600.2,516.9 L600.7,516.9 L601.2,516.9 L601.7,516.7 L602.2,516.7 L602.7,516.8 L603.2,516.6 L603.7,516.9 L604.2,517.1 L604.7,517.1 L605.2,517.1 L605.7,517.0 L606.2,516.7 L606.7,516.6 L607.2,516.5 L607.7,516.6 L608.2,516.6 L608.7,516.7 L609.2,516.4 L609.7,516.8 L610.2,517.0 L610.7,516.8 L611.2,516.8 L611.7,516.8 L612.2,516.7 L612.7,516.6 L613.2,516.6 L613.7,516.5 L614.2,516.6 L614.7,516.6 L615.2,516.6 L615.7,516.4 L616.2,516.5 L616.7,516.5 L617.2,516.5 L617.7,516.3 L618.2,516.4 L618.7,516.5 L619.2,516.5 L619.7,516.4 L620.2,516.3 L620.7,516.2 L621.2,516.3 L621.7,516.5 L622.2,516.3 L622.7,516.2 L623.2,516.2 L623.7,516.2 L624.2,516.0 L624.7,515.9 L625.2,516.0 L625.7,516.1 L626.2,515.9 L626.7,515.8 L627.2,515.9 L627.7,515.7 L628.2,515.8 L628.7,515.9 L629.2,515.9 L629.7,515.7 L630.2,515.7 L630.7,515.7 L631.2,515.8 L631.7,515.6 L632.2,515.8 L632.7,515.5 L633.2,515.5 L633.7,515.6 L634.2,515.7 L634.7,515.6 L635.2,515.6 L635.7,515.5 L636.2,515.6 L636.7,515.8 L637.2,515.6 L637.7,515.5 L638.2,515.3 L638.7,515.5 L639.2,515.6 L639.7,515.5 L640.2,515.2 L640.7,515.3 L641.2,515.4 L641.7,515.5 L642.2,515.5 L642.5,515.2 L643.0,515.7 L643.5,517.8 L644.0,520.4 L644.4,523.4 L644.3,525.3 L645.5,506.9 L648.4,519.8 L649.7,518.1 L650.4,513.2 L650.9,513.1 L651.4,513.2 L651.9,513.6 L652.4,513.5 L652.9,513.8 L653.4,514.2 L653.9,514.2 L654.4,514.4 L654.9,514.3 L655.4,514.1 L655.9,514.3 L656.4,514.4 L656.9,514.5 L657.4,514.7 L657.9,514.7 L658.4,514.8 L658.9,514.9 L659.4,514.9 L659.9,515.2 L660.4,515.2 L660.9,515.2 L661.4,515.1 L661.9,515.1 L662.4,515.4 L662.9,515.4 L663.4,515.3 L663.9,515.2 L664.4,515.3 L664.9,515.2 L665.4,515.4 L665.9,515.2 L666.4,515.3 L666.9,515.3 L667.4,515.1 L667.9,515.1 L668.4,515.1 L668.9,515.2 L669.4,515.1 L669.9,515.2 L670.4,514.9 L670.9,514.8 L671.4,515.0 L671.9,515.2 L672.4,515.1 L672.9,514.9 L673.4,515.2 L673.9,514.8 L674.4,514.8 L674.9,515.1 L675.4,515.2 L675.9,515.0 L676.4,514.8 L676.9,515.2 L677.4,515.2 L677.9,515.1 L678.4,515.2 L678.9,515.4 L679.4,514.9 L679.9,515.3 L680.4,515.4 L680.9,515.1 L681.4,515.3 L681.9,515.1 L682.4,515.4 L682.9,515.5 L683.4,515.8 L683.9,515.5 L684.4,515.5 L684.9,515.7 L685.4,515.5 L685.9,515.4 L686.4,515.4 L686.9,515.5 L687.4,515.4 L687.9,515.6 L688.0,515.6 L690.5,515.8 L692.5,516.3 L694.0,517.0 L695.3,518.1 L696.2,520.0 L696.8,522.3 L697.3,524.7 L697.6,525.5" stroke="#F14040"/>
<path d="M148.4,522.1 L150.0,522.5 L151.4,523.3 L152.4,524.5 L153.0,525.0 L153.4,525.0 L153.8,525.0 L154.3,524.9 L154.8,525.0 L155.3,524.9 L155.8,524.5 L156.3,524.0 L156.8,523.5 L157.3,522.9 L157.8,522.5 L158.3,522.2 L158.8,521.9 L159.3,521.7 L159.8,521.5 L160.3,521.4 L160.8,521.1 L161.3,521.1 L161.8,521.1 L162.3,521.0 L162.8,520.9 L163.3,521.0 L163.8,521.0 L164.3,521.0 L164.8,520.9 L165.3,521.0 L165.8,521.1 L166.3,521.1 L166.8,521.1 L167.3,520.9 L167.8,520.9 L168.3,521.0 L168.8,520.8 L169.3,520.8 L169.8,520.8 L170.3,520.8 L170.8,520.8 L171.3,520.9 L171.8,520.8 L172.3,520.8 L172.8,520.9 L173.3,520.9 L173.8,520.9 L174.3,520.7 L174.8,520.5 L175.3,520.5 L175.8,520.6 L176.3,520.8 L176.8,520.6 L177.3,520.6 L177.8,520.5 L178.3,520.5 L178.8,520.5 L179.3,520.6 L179.8,520.6 L180.3,520.7 L180.8,520.5 L181.3,520.6 L181.8,520.7 L182.3,520.6 L182.8,520.6 L183.3,520.5 L183.8,520.4 L184.3,520.4 L184.8,520.4 L185.3,520.7 L185.8,520.5 L186.3,520.7 L186.8,520.6 L187.3,520.5 L187.8,520.6 L188.3,520.4 L188.8,520.5 L189.3,520.5 L189.8,520.3 L190.3,520.4 L190.8,520.4 L191.3,520.5 L191.8,520.6 L192.3,520.4 L192.8,520.4 L193.3,520.5 L193.8,520.3 L194.3,520.4 L194.8,520.2 L195.3,520.1 L195.5,520.3 L196.0,520.6 L196.5,521.6 L197.0,522.9 L197.4,524.5 L197.4,524.6 L198.6,524.6 L199.0,524.6 L199.5,524.5 L200.0,524.5 L200.5,524.3 L201.0,523.7 L201.5,522.8 L202.0,522.0 L202.5,521.0 L203.0,520.3 L203.5,519.8 L204.0,519.5 L204.5,519.1 L205.0,518.9 L205.5,518.5 L206.0,518.1 L206.5,518.2 L207.0,518.0 L207.5,518.0 L208.0,518.0 L208.5,517.7 L209.0,517.7 L209.5,517.7 L210.0,517.6 L210.5,517.7 L211.0,517.7 L211.5,517.6 L212.0,517.5 L212.5,517.7 L213.0,517.6 L213.5,517.7 L214.0,517.8 L214.5,517.5 L215.0,517.4 L215.5,517.5 L216.0,517.6 L216.5,517.7 L217.0,517.8 L217.5,517.8 L218.0,517.7 L218.5,517.6 L219.0,517.7 L219.5,517.6 L220.0,517.7 L220.5,517.4 L221.0,517.6 L221.5,517.5 L222.0,517.3 L222.5,517.5 L223.0,517.6 L223.5,517.6 L224.0,517.4 L224.5,517.4 L225.0,517.7 L225.5,517.5 L226.0,517.0 L226.5,517.1 L227.0,517.2 L227.5,517.3 L228.0,517.3 L228.5,517.3 L229.0,517.3 L229.5,517.5 L230.0,517.3 L230.5,517.6 L231.0,517.5 L231.5,517.3 L232.0,517.5 L232.5,517.5 L233.0,517.3 L233.5,517.5 L234.0,517.2 L234.5,517.2 L235.0,517.4 L235.5,517.4 L236.0,517.2 L236.5,517.3 L237.0,517.5 L237.5,517.4 L238.0,517.1 L238.5,517.2 L239.0,517.3 L239.5,517.4 L240.0,517.6 L240.5,517.4 L241.0,517.3 L241.5,517.3 L242.0,517.7 L242.5,519.3 L243.0,521.4 L243.4,523.9 L243.4,522.5 L245.6,522.5 L246.0,522.6 L246.5,522.8 L247.0,523.0 L247.5,523.4 L248.0,521.8 L248.5,520.3 L249.0,518.5 L249.5,517.0 L250.0,515.5 L250.5,514.3 L251.0,513.6 L251.5,513.0 L252.0,512.6 L252.5,512.0 L253.0,511.5 L253.5,511.0 L254.0,511.5 L254.5,511.1 L255.0,510.9 L255.5,510.5 L256.0,510.7 L256.5,510.5 L257.0,510.7 L257.5,510.7 L258.0,510.5 L258.5,510.6 L259.0,510.2 L259.5,510.2 L260.0,510.1 L260.5,509.9 L261.0,510.1 L261.5,510.1 L262.0,510.4 L262.5,509.7 L263.0,509.8 L263.5,509.8 L264.0,509.9 L264.5,510.1 L265.0,510.2 L265.5,510.1 L266.0,510.0 L266.5,510.2 L267.0,510.2 L267.5,509.8 L268.0,509.9 L268.5,509.7 L269.0,509.7 L269.5,509.9 L270.0,510.0 L270.5,510.0 L271.0,509.9 L271.5,509.9 L272.0,509.8 L272.5,510.0 L273.0,510.1 L273.5,510.4 L274.0,510.4 L274.5,510.1 L275.0,509.9 L275.5,509.8 L276.0,509.9 L276.5,510.3 L277.0,510.3 L277.5,509.7 L278.0,509.6 L278.5,509.5 L279.0,509.8 L279.5,509.9 L280.0,510.0 L280.5,510.3 L281.0,509.9 L281.5,509.8 L282.0,510.2 L282.5,510.1 L283.0,509.8 L283.5,509.5 L284.0,509.4 L284.5,509.2 L285.0,509.5 L285.5,509.7 L286.0,510.0 L286.5,509.9 L287.0,509.7 L287.5,509.6 L288.0,510.1 L288.5,509.6 L289.0,509.7 L289.5,509.8 L290.0,509.9 L290.1,509.8 L290.6,510.6 L291.1,513.7 L291.6,517.6 L292.0,522.4 L292.0,522.5 L294.8,522.5 L295.2,522.5 L295.7,522.4 L296.2,522.4 L296.7,522.2 L297.2,519.8 L297.7,516.9 L298.2,513.9 L298.7,511.1 L299.2,508.5 L299.7,507.3 L300.2,506.6 L300.7,505.9 L301.2,504.9 L301.7,504.4 L302.2,503.9 L302.7,503.6 L303.2,503.2 L303.7,502.9 L304.2,502.5 L304.7,502.2 L305.2,502.4 L305.7,502.5 L306.2,502.4 L306.7,502.3 L307.2,502.1 L307.7,501.9 L308.2,501.4 L308.7,501.7 L309.2,501.8 L309.7,501.6 L310.2,501.4 L310.7,501.8 L311.2,501.3 L311.7,501.9 L312.2,501.9 L312.7,502.3 L313.2,501.8 L313.7,501.7 L314.2,501.5 L314.7,501.6 L315.2,501.5 L315.7,501.4 L316.2,501.7 L316.7,501.4 L317.2,501.4 L317.7,501.6 L318.2,501.4 L318.7,501.4 L319.2,501.5 L319.7,501.4 L320.2,501.2 L320.7,501.3 L321.2,501.3 L321.7,501.8 L322.2,501.4 L322.7,501.6 L323.2,501.3 L323.7,501.3 L324.2,501.3 L324.7,501.4 L325.2,501.6 L325.7,501.9 L326.2,501.5 L326.7,501.8 L327.2,501.8 L327.7,501.8 L328.2,501.4 L328.7,501.6 L329.2,501.4 L329.7,501.5 L330.2,501.3 L330.7,501.5 L331.2,501.7 L331.7,501.7 L332.2,501.5 L332.7,501.6 L333.2,501.8 L333.7,501.3 L334.2,501.6 L334.7,501.1 L335.2,501.3 L335.7,501.4 L336.2,501.7 L336.7,501.5 L337.2,501.3 L337.7,501.1 L338.2,500.8 L338.7,501.2 L339.2,501.1 L339.5,501.2 L340.0,502.4 L340.5,507.3 L341.0,513.4 L341.4,520.6 L341.4,522.5 L343.2,522.5 L343.6,522.3 L344.1,522.0 L344.6,521.5 L345.1,520.9 L345.6,516.9 L346.1,512.6 L346.6,508.1 L347.1,503.2 L347.6,498.7 L348.1,497.5 L348.6,496.4 L349.1,495.5 L349.6,494.8 L350.1,493.9 L350.6,493.6 L351.1,493.2 L351.6,492.6 L352.1,492.0 L352.6,491.5 L353.1,491.5 L353.6,490.9 L354.1,490.7 L354.6,490.4 L355.1,489.9 L355.6,490.2 L356.1,490.1 L356.6,490.1 L357.1,490.3 L357.6,489.7 L358.1,489.8 L358.6,490.0 L359.1,490.2 L359.6,489.8 L360.1,490.0 L360.6,490.0 L361.1,490.4 L361.6,490.5 L362.1,490.3 L362.6,490.7 L363.1,490.3 L363.6,490.0 L364.1,489.9 L364.6,489.6 L365.1,489.8 L365.6,489.3 L366.1,489.6 L366.6,489.9 L367.1,490.2 L367.6,489.9 L368.1,490.3 L368.6,489.9 L369.1,489.9 L369.6,489.4 L370.1,489.4 L370.6,489.4 L371.1,490.1 L371.6,490.1 L372.1,489.7 L372.6,490.0 L373.1,490.1 L373.6,489.9 L374.1,489.9 L374.6,489.8 L375.1,489.7 L375.6,489.3 L376.1,489.6 L376.6,490.1 L377.1,490.4 L377.6,490.1 L378.1,489.8 L378.6,489.8 L379.1,490.1 L379.6,490.1 L380.1,489.8 L380.6,490.0 L381.1,489.9 L381.6,490.0 L382.1,489.9 L382.6,489.5 L383.1,489.7 L383.6,490.0 L384.1,489.7 L384.6,489.7 L385.1,490.1 L385.6,489.9 L386.1,489.7 L386.6,490.4 L387.1,490.4 L387.6,490.4 L388.1,489.9 L388.6,490.3 L389.0,489.9 L389.5,491.7 L390.0,498.8 L390.5,507.7 L390.9,518.4 L390.9,522.5 L391.7,522.5 L392.1,522.2 L392.6,521.4 L393.1,520.5 L393.6,519.5 L394.1,513.3 L394.6,506.0 L395.1,499.0 L395.6,491.4 L396.1,485.7 L396.6,484.7 L397.1,483.4 L397.6,482.7 L398.1,482.1 L398.6,481.4 L399.1,480.9 L399.6,480.8 L400.1,479.9 L400.6,479.5 L401.1,479.0 L401.6,479.0 L402.1,478.5 L402.6,478.4 L403.1,478.2 L403.6,478.0 L404.1,478.3 L404.6,477.8 L405.1,477.9 L405.6,477.8 L406.1,477.7 L406.6,477.2 L407.1,477.3 L407.6,477.3 L408.1,476.9 L408.6,477.0 L409.1,476.9 L409.6,476.9 L410.1,477.3 L410.6,476.8 L411.1,476.3 L411.6,476.1 L412.1,476.3 L412.6,476.4 L413.1,476.7 L413.6,477.0 L414.1,477.5 L414.6,477.3 L415.1,477.2 L415.6,476.9 L416.1,477.1 L416.6,477.4 L417.1,477.6 L417.6,476.7 L418.1,477.1 L418.6,477.5 L419.1,477.5 L419.6,476.8 L420.1,476.8 L420.6,477.1 L421.1,477.2 L421.6,476.8 L422.1,476.6 L422.6,477.1 L423.1,476.7 L423.6,477.3 L424.1,477.2 L424.6,477.2 L425.1,476.7 L425.6,476.7 L426.1,477.1 L426.6,476.6 L427.1,477.5 L427.6,476.8 L428.1,476.6 L428.6,476.8 L429.1,477.1 L429.6,477.3 L430.1,477.1 L430.6,477.0 L431.1,477.0 L431.6,476.9 L432.1,476.2 L432.6,477.0 L433.1,477.1 L433.6,477.2 L434.1,477.0 L434.6,477.1 L435.1,477.2 L435.6,477.1 L436.1,477.5 L436.6,476.8 L437.1,477.1 L437.6,476.8 L438.1,476.9 L438.1,477.2 L438.6,479.6 L439.1,489.3 L439.6,501.4 L440.0,515.8 L440.0,522.5 L440.6,522.5 L441.0,522.0 L441.5,520.6 L442.0,518.9 L442.5,516.8 L443.0,508.1 L443.5,497.3 L444.0,486.4 L444.5,476.3 L445.0,467.5 L445.5,466.1 L446.0,465.5 L446.5,464.1 L447.0,463.3 L447.5,462.8 L448.0,462.5 L448.5,461.7 L449.0,461.8 L449.5,462.1 L450.0,461.2 L450.5,461.4 L451.0,460.0 L451.5,460.5 L452.0,460.0 L452.5,459.8 L453.0,459.5 L453.5,459.2 L454.0,458.8 L454.5,459.0 L455.0,459.7 L455.5,460.0 L456.0,459.6 L456.5,459.4 L457.0,459.3 L457.5,459.0 L458.0,460.0 L458.5,460.2 L459.0,460.0 L459.5,459.8 L460.0,459.5 L460.5,460.2 L461.0,460.4 L461.5,459.9 L462.0,460.4 L462.5,459.9 L463.0,460.3 L463.5,459.9 L464.0,460.0 L464.5,460.4 L465.0,460.6 L465.5,460.9 L466.0,460.4 L466.5,461.1 L467.0,461.4 L467.5,461.0 L468.0,461.0 L468.5,460.5 L469.0,460.5 L469.5,460.1 L470.0,460.4 L470.5,460.6 L471.0,461.1 L471.5,461.2 L472.0,461.2 L472.5,460.8 L473.0,460.7 L473.5,460.5 L474.0,460.7 L474.5,460.0 L475.0,460.6 L475.5,460.1 L476.0,460.2 L476.5,460.4 L477.0,460.4 L477.5,461.2 L478.0,460.9 L478.5,461.4 L479.0,461.5 L479.5,460.9 L480.0,461.0 L480.5,461.3 L481.0,460.9 L481.5,460.9 L482.0,460.6 L482.5,460.7 L483.0,460.6 L483.5,460.7 L484.0,461.1 L484.5,461.5 L485.0,461.2 L485.5,461.0 L486.0,461.2 L486.5,460.9 L487.0,460.5 L487.5,461.0 L488.0,460.6 L488.5,461.0 L488.7,460.8 L489.2,464.0 L489.7,477.0 L490.2,493.1 L490.6,512.6 L490.6,522.5 L491.0,522.5 L491.4,521.7 L491.9,520.0 L492.4,517.4 L492.9,514.6 L493.4,503.1 L493.9,488.9 L494.4,475.4 L494.9,461.1 L495.4,449.0 L495.9,448.2 L496.4,447.3 L496.9,446.0 L497.4,444.1 L497.9,443.9 L498.4,443.5 L498.9,443.0 L499.4,442.6 L499.9,441.6 L500.4,441.5 L500.9,442.3 L501.4,442.5 L501.9,441.7 L502.4,441.0 L502.9,441.1 L503.4,441.5 L503.9,441.7 L504.4,441.1 L504.9,441.5 L505.4,441.8 L505.9,442.6 L506.4,443.0 L506.9,443.0 L507.4,443.5 L507.9,443.1 L508.4,443.9 L508.9,443.5 L509.4,443.8 L509.9,444.3 L510.4,443.9 L510.9,443.9 L511.4,443.6 L511.9,444.3 L512.4,444.7 L512.9,444.7 L513.4,445.1 L513.9,444.1 L514.4,444.5 L514.9,444.8 L515.4,444.7 L515.9,445.1 L516.4,445.7 L516.9,445.1 L517.4,444.6 L517.9,444.5 L518.4,444.7 L518.9,445.0 L519.4,444.5 L519.9,445.1 L520.4,444.5 L520.9,445.0 L521.4,445.0 L521.9,445.1 L522.4,445.8 L522.9,445.1 L523.4,444.8 L523.9,445.0 L524.4,445.2 L524.9,444.3 L525.4,444.6 L525.9,444.3 L526.4,444.7 L526.9,445.2 L527.4,444.9 L527.9,444.7 L528.4,444.7 L528.9,443.4 L529.4,444.3 L529.9,444.6 L530.4,444.6 L530.9,444.4 L531.4,444.1 L531.9,444.2 L532.4,444.8 L532.9,444.6 L533.4,445.1 L533.9,443.7 L534.4,443.8 L534.9,444.2 L535.4,444.3 L535.9,443.6 L536.4,443.7 L536.9,444.5 L537.4,443.9 L537.9,443.7 L538.1,444.3 L538.6,448.4 L539.1,464.6 L539.6,484.9 L540.0,509.3 L540.0,522.5 L540.4,522.5 L540.8,521.5 L541.3,519.1 L541.8,516.0 L542.3,512.4 L542.8,497.7 L543.3,481.5 L543.8,464.5 L544.3,447.6 L544.8,434.7 L545.3,432.6 L545.8,430.5 L546.3,429.2 L546.8,428.1 L547.3,427.0 L547.8,426.5 L548.3,426.6 L548.8,426.1 L549.3,424.9 L549.8,426.0 L550.3,424.8 L550.8,424.8 L551.3,424.7 L551.8,425.0 L552.3,424.7 L552.8,425.0 L553.3,425.9 L553.8,425.5 L554.3,424.8 L554.8,425.1 L555.3,424.8 L555.8,424.9 L556.3,425.3 L556.8,425.6 L557.3,425.5 L557.8,426.1 L558.3,425.9 L558.8,425.4 L559.3,426.2 L559.8,426.1 L560.3,426.8 L560.8,426.4 L561.3,426.8 L561.8,426.9 L562.3,425.7 L562.8,425.7 L563.3,425.9 L563.8,427.2 L564.3,426.5 L564.8,427.4 L565.3,427.9 L565.8,427.8 L566.3,427.9 L566.8,427.4 L567.3,427.3 L567.8,427.4 L568.3,427.5 L568.8,427.7 L569.3,427.3 L569.8,426.9 L570.3,426.8 L570.8,427.1 L571.3,426.4 L571.8,426.1 L572.3,426.4 L572.8,426.5 L573.3,426.6 L573.8,425.6 L574.3,426.1 L574.8,426.4 L575.3,427.0 L575.8,426.1 L576.3,426.3 L576.8,426.8 L577.3,427.1 L577.8,427.5 L578.3,427.7 L578.8,426.7 L579.3,427.1 L579.8,426.8 L580.3,426.4 L580.8,427.3 L581.3,426.7 L581.8,426.3 L582.3,426.3 L582.8,426.1 L583.3,426.8 L583.8,426.9 L584.3,427.4 L584.8,427.2 L585.3,426.6 L585.8,427.0 L586.3,426.5 L586.8,426.2 L587.3,426.3 L587.8,426.4 L588.3,426.9 L588.8,426.4 L589.0,426.4 L589.5,431.4 L590.0,451.2 L590.5,475.9 L590.9,505.7 L590.9,522.5 L591.3,522.5 L591.7,521.1 L592.2,517.8 L592.7,513.3 L593.2,507.8 L593.7,487.5 L594.2,463.6 L594.7,439.7 L595.2,415.8 L595.7,396.3 L596.2,395.9 L596.7,396.3 L597.2,395.8 L597.7,395.6 L598.2,395.9 L598.7,395.5 L599.2,395.8 L599.7,395.9 L600.2,396.2 L600.7,396.6 L601.2,396.6 L601.7,396.8 L602.2,396.3 L602.7,397.2 L603.2,397.1 L603.7,397.9 L604.2,396.7 L604.7,397.2 L605.2,398.1 L605.7,397.3 L606.2,398.0 L606.7,398.8 L607.2,399.2 L607.7,398.7 L608.2,399.5 L608.7,399.9 L609.2,399.6 L609.7,400.5 L610.2,400.6 L610.7,400.8 L611.2,400.8 L611.7,401.0 L612.2,400.8 L612.7,401.2 L613.2,401.0 L613.7,400.2 L614.2,399.9 L614.7,400.3 L615.2,399.8 L615.7,399.8 L616.2,399.8 L616.7,399.4 L617.2,397.9 L617.7,398.4 L618.2,398.7 L618.7,398.6 L619.2,398.1 L619.7,398.7 L620.2,398.1 L620.7,397.5 L621.2,397.0 L621.7,397.2 L622.2,396.4 L622.7,395.9 L623.2,397.2 L623.7,397.3 L624.2,397.1 L624.7,397.1 L625.2,396.5 L625.7,394.9 L626.2,395.5 L626.7,395.7 L627.2,395.3 L627.7,393.7 L628.2,394.5 L628.7,394.8 L629.2,393.8 L629.7,393.5 L630.2,393.5 L630.7,392.9 L631.2,393.1 L631.7,392.6 L632.2,392.4 L632.7,391.9 L633.2,390.7 L633.7,390.2 L634.2,392.0 L634.7,391.2 L635.2,391.3 L635.7,391.0 L636.2,391.1 L636.7,390.4 L637.2,389.3 L637.7,389.1 L638.2,387.9 L638.7,388.2 L639.2,388.8 L639.7,387.4 L640.2,387.9 L640.7,388.5 L641.2,388.9 L641.7,387.9 L642.2,387.5 L642.5,387.8 L643.0,394.7 L643.5,422.2 L644.0,456.6 L644.4,498.0 L644.3,525.3 L645.5,220.5 L648.3,432.0 L649.7,405.8 L650.4,326.0 L650.9,327.9 L651.4,331.2 L651.9,335.4 L652.4,340.0 L652.9,342.0 L653.4,344.9 L653.9,346.2 L654.4,347.1 L654.9,349.9 L655.4,349.2 L655.9,351.1 L656.4,352.3 L656.9,354.2 L657.4,355.2 L657.9,356.3 L658.4,355.8 L658.9,356.3 L659.4,357.1 L659.9,357.3 L660.4,357.5 L660.9,357.6 L661.4,357.8 L661.9,357.3 L662.4,358.7 L662.9,357.9 L663.4,356.4 L663.9,357.0 L664.4,357.0 L664.9,357.0 L665.4,358.0 L665.9,357.2 L666.4,356.6 L666.9,355.9 L667.4,356.0 L667.9,355.6 L668.4,355.8 L668.9,357.5 L669.4,356.7 L669.9,355.4 L670.4,356.4 L670.9,356.1 L671.4,355.9 L671.9,356.0 L672.4,356.3 L672.9,356.4 L673.4,357.1 L673.9,357.3 L674.4,357.8 L674.9,357.0 L675.4,357.0 L675.9,356.7 L676.4,357.7 L676.9,358.3 L677.4,357.7 L677.9,358.2 L678.4,359.7 L678.9,359.7 L679.4,358.3 L679.9,358.3 L680.4,358.8 L680.9,358.7 L681.4,358.9 L681.9,359.5 L682.4,359.3 L682.9,358.3 L683.4,359.0 L683.9,358.8 L684.4,358.9 L684.9,358.5 L685.4,357.9 L685.9,357.6 L686.4,358.1 L686.9,357.9 L687.4,356.8 L687.9,358.6 L688.0,359.0 L690.5,363.2 L692.5,370.7 L694.0,382.3 L695.3,400.6 L696.2,432.3 L696.8,472.2 L697.3,512.2 L697.6,525.5" stroke="#1A6FDF"/>
<path d="M148.4,523.0 L150.0,523.3 L151.4,523.9 L152.4,524.8 L153.0,525.1 L153.4,525.1 L153.8,525.1 L154.3,524.7 L154.8,524.5 L155.3,524.2 L155.8,524.1 L156.3,523.8 L156.8,523.6 L157.3,523.4 L157.8,523.2 L158.3,523.0 L158.8,522.8 L159.3,522.5 L159.8,522.3 L160.3,522.3 L160.8,522.4 L161.3,522.3 L161.8,522.3 L162.3,522.2 L162.8,522.2 L163.3,522.2 L163.8,522.0 L164.3,522.1 L164.8,522.0 L165.3,522.0 L165.8,521.9 L166.3,521.9 L166.8,521.9 L167.3,521.9 L167.8,522.2 L168.3,522.2 L168.8,522.1 L169.3,522.1 L169.8,522.0 L170.3,521.8 L170.8,521.7 L171.3,521.9 L171.8,522.1 L172.3,522.0 L172.8,521.9 L173.3,521.9 L173.8,521.9 L174.3,521.8 L174.8,521.9 L175.3,521.9 L175.8,521.9 L176.3,521.9 L176.8,521.9 L177.3,521.9 L177.8,522.1 L178.3,522.0 L178.8,522.2 L179.3,522.0 L179.8,522.0 L180.3,521.9 L180.8,521.9 L181.3,522.0 L181.8,522.0 L182.3,522.1 L182.8,522.0 L183.3,521.9 L183.8,521.9 L184.3,522.0 L184.8,521.9 L185.3,522.0 L185.8,522.2 L186.3,522.0 L186.8,522.0 L187.3,522.1 L187.8,521.9 L188.3,522.0 L188.8,522.0 L189.3,521.9 L189.8,522.0 L190.3,522.0 L190.8,522.0 L191.3,522.0 L191.8,522.1 L192.3,522.1 L192.8,522.1 L193.3,522.1 L193.8,521.9 L194.3,521.9 L194.8,522.0 L195.3,521.7 L195.5,522.0 L196.0,522.2 L196.5,522.9 L197.0,523.8 L197.4,524.8 L197.4,524.9 L198.6,524.9 L199.0,524.9 L199.5,524.5 L200.0,524.1 L200.5,523.7 L201.0,523.4 L201.5,523.1 L202.0,522.8 L202.5,522.5 L203.0,522.2 L203.5,521.9 L204.0,521.6 L204.5,521.4 L205.0,521.4 L205.5,521.2 L206.0,521.1 L206.5,521.0 L207.0,521.1 L207.5,521.0 L208.0,520.9 L208.5,520.8 L209.0,520.7 L209.5,520.6 L210.0,520.7 L210.5,520.7 L211.0,520.6 L211.5,520.5 L212.0,520.4 L212.5,520.5 L213.0,520.7 L213.5,520.7 L214.0,520.5 L214.5,520.5 L215.0,520.6 L215.5,520.5 L216.0,520.6 L216.5,520.6 L217.0,520.5 L217.5,520.4 L218.0,520.6 L218.5,520.6 L219.0,520.5 L219.5,520.5 L220.0,520.6 L220.5,520.7 L221.0,520.6 L221.5,520.8 L222.0,520.7 L222.5,520.5 L223.0,520.7 L223.5,520.6 L224.0,520.6 L224.5,520.6 L225.0,520.5 L225.5,520.4 L226.0,520.5 L226.5,520.7 L227.0,520.5 L227.5,520.7 L228.0,520.7 L228.5,520.5 L229.0,520.6 L229.5,520.7 L230.0,520.5 L230.5,520.3 L231.0,520.5 L231.5,520.4 L232.0,520.6 L232.5,520.4 L233.0,520.5 L233.5,520.5 L234.0,520.4 L234.5,520.5 L235.0,520.5 L235.5,520.5 L236.0,520.4 L236.5,520.5 L237.0,520.4 L237.5,520.5 L238.0,520.6 L238.5,520.8 L239.0,520.8 L239.5,520.7 L240.0,520.7 L240.5,520.6 L241.0,520.5 L241.5,520.6 L242.0,520.8 L242.5,521.8 L243.0,523.0 L243.4,524.5 L243.4,524.7 L245.6,524.7 L246.0,524.7 L246.5,523.9 L247.0,523.2 L247.5,522.5 L248.0,522.0 L248.5,521.4 L249.0,520.7 L249.5,520.3 L250.0,520.0 L250.5,519.3 L251.0,518.8 L251.5,518.3 L252.0,517.9 L252.5,517.8 L253.0,518.0 L253.5,517.6 L254.0,517.3 L254.5,517.2 L255.0,517.0 L255.5,517.0 L256.0,517.0 L256.5,516.7 L257.0,516.6 L257.5,516.6 L258.0,516.7 L258.5,516.7 L259.0,516.8 L259.5,516.5 L260.0,516.6 L260.5,516.5 L261.0,516.6 L261.5,516.6 L262.0,516.4 L262.5,516.5 L263.0,516.3 L263.5,516.5 L264.0,516.4 L264.5,516.4 L265.0,516.5 L265.5,516.4 L266.0,516.6 L266.5,516.5 L267.0,516.6 L267.5,516.6 L268.0,516.4 L268.5,516.4 L269.0,516.4 L269.5,516.4 L270.0,516.4 L270.5,516.7 L271.0,516.5 L271.5,516.7 L272.0,516.7 L272.5,516.4 L273.0,516.1 L273.5,516.4 L274.0,516.2 L274.5,516.4 L275.0,516.6 L275.5,516.6 L276.0,516.5 L276.5,516.4 L277.0,516.5 L277.5,516.4 L278.0,516.4 L278.5,516.4 L279.0,516.6 L279.5,516.4 L280.0,516.5 L280.5,516.3 L281.0,516.3 L281.5,516.2 L282.0,516.3 L282.5,516.5 L283.0,516.5 L283.5,516.4 L284.0,516.5 L284.5,516.4 L285.0,516.5 L285.5,516.5 L286.0,516.5 L286.5,516.1 L287.0,516.1 L287.5,516.4 L288.0,516.4 L288.5,516.7 L289.0,516.5 L289.5,516.4 L290.0,516.6 L290.1,516.4 L290.6,516.9 L291.1,518.7 L291.6,521.0 L292.0,523.7 L292.0,524.7 L294.8,524.7 L295.2,524.7 L295.7,523.6 L296.2,522.8 L296.7,521.9 L297.2,521.1 L297.7,520.3 L298.2,519.5 L298.7,518.8 L299.2,518.1 L299.7,517.6 L300.2,517.0 L300.7,516.7 L301.2,516.3 L301.7,516.2 L302.2,515.5 L302.7,515.5 L303.2,515.5 L303.7,515.3 L304.2,515.4 L304.7,515.4 L305.2,515.5 L305.7,515.4 L306.2,515.4 L306.7,515.2 L307.2,515.0 L307.7,515.0 L308.2,514.9 L308.7,515.0 L309.2,514.9 L309.7,515.4 L310.2,514.9 L310.7,515.1 L311.2,515.0 L311.7,514.9 L312.2,515.1 L312.7,515.0 L313.2,514.8 L313.7,514.9 L314.2,514.9 L314.7,514.6 L315.2,514.8 L315.7,514.7 L316.2,514.7 L316.7,514.9 L317.2,514.9 L317.7,514.9 L318.2,515.2 L318.7,515.1 L319.2,514.9 L319.7,514.9 L320.2,514.9 L320.7,514.6 L321.2,514.5 L321.7,514.5 L322.2,515.0 L322.7,514.9 L323.2,514.9 L323.7,514.8 L324.2,515.0 L324.7,514.9 L325.2,515.2 L325.7,515.1 L326.2,515.2 L326.7,515.0 L327.2,515.0 L327.7,514.9 L328.2,514.8 L328.7,514.6 L329.2,514.6 L329.7,514.6 L330.2,514.6 L330.7,514.9 L331.2,514.9 L331.7,515.1 L332.2,515.1 L332.7,515.1 L333.2,515.1 L333.7,514.9 L334.2,515.0 L334.7,514.8 L335.2,514.8 L335.7,515.0 L336.2,515.2 L336.7,514.9 L337.2,515.1 L337.7,515.1 L338.2,514.8 L338.7,514.8 L339.2,514.9 L339.5,514.8 L340.0,515.3 L340.5,517.5 L341.0,520.1 L341.4,523.4 L341.4,524.7 L343.2,524.7 L343.6,524.7 L344.1,522.6 L344.6,520.8 L345.1,519.3 L345.6,517.9 L346.1,516.6 L346.6,515.2 L347.1,513.9 L347.6,512.4 L348.1,512.0 L348.6,511.8 L349.1,511.8 L349.6,511.5 L350.1,511.4 L350.6,511.2 L351.1,511.4 L351.6,510.7 L352.1,510.8 L352.6,511.2 L353.1,511.0 L353.6,510.5 L354.1,510.6 L354.6,510.4 L355.1,510.4 L355.6,510.5 L356.1,510.9 L356.6,510.8 L357.1,510.8 L357.6,510.9 L358.1,510.8 L358.6,510.5 L359.1,510.5 L359.6,510.6 L360.1,510.5 L360.6,510.4 L361.1,510.4 L361.6,510.2 L362.1,510.2 L362.6,510.3 L363.1,510.4 L363.6,510.5 L364.1,510.7 L364.6,510.7 L365.1,510.6 L365.6,510.3 L366.1,510.2 L366.6,510.4 L367.1,510.3 L367.6,510.5 L368.1,510.3 L368.6,510.4 L369.1,510.4 L369.6,510.6 L370.1,510.5 L370.6,510.4 L371.1,510.5 L371.6,510.5 L372.1,510.8 L372.6,510.6 L373.1,510.4 L373.6,510.4 L374.1,510.5 L374.6,510.5 L375.1,510.6 L375.6,510.3 L376.1,510.8 L376.6,511.0 L377.1,510.7 L377.6,510.4 L378.1,510.4 L378.6,510.5 L379.1,510.1 L379.6,510.3 L380.1,510.1 L380.6,510.3 L381.1,510.6 L381.6,510.7 L382.1,510.3 L382.6,510.6 L383.1,510.7 L383.6,510.5 L384.1,510.5 L384.6,510.8 L385.1,510.5 L385.6,510.5 L386.1,510.3 L386.6,510.6 L387.1,510.1 L387.6,510.5 L388.1,510.3 L388.6,510.5 L389.0,510.4 L389.5,511.2 L390.0,514.2 L390.5,518.0 L390.9,522.5 L390.9,524.7 L391.7,524.7 L392.1,524.7 L392.6,522.0 L393.1,519.8 L393.6,517.9 L394.1,515.9 L394.6,514.2 L395.1,512.3 L395.6,510.9 L396.1,509.1 L396.6,508.7 L397.1,508.3 L397.6,508.4 L398.1,507.9 L398.6,507.6 L399.1,507.9 L399.6,507.5 L400.1,507.5 L400.6,507.1 L401.1,507.1 L401.6,506.6 L402.1,506.8 L402.6,506.7 L403.1,506.5 L403.6,506.4 L404.1,506.8 L404.6,506.9 L405.1,506.5 L405.6,507.0 L406.1,506.8 L406.6,506.7 L407.1,506.8 L407.6,506.5 L408.1,506.3 L408.6,506.4 L409.1,506.8 L409.6,507.0 L410.1,506.5 L410.6,506.9 L411.1,506.8 L411.6,506.9 L412.1,506.8 L412.6,506.8 L413.1,506.6 L413.6,506.5 L414.1,506.4 L414.6,506.5 L415.1,506.7 L415.6,506.5 L416.1,506.9 L416.6,506.7 L417.1,506.6 L417.6,506.8 L418.1,506.8 L418.6,506.7 L419.1,506.5 L419.6,506.4 L420.1,506.2 L420.6,506.7 L421.1,506.9 L421.6,507.2 L422.1,507.0 L422.6,506.9 L423.1,506.9 L423.6,507.0 L424.1,506.8 L424.6,506.8 L425.1,507.2 L425.6,506.6 L426.1,506.3 L426.6,506.3 L427.1,506.6 L427.6,506.9 L428.1,506.7 L428.6,506.8 L429.1,506.7 L429.6,506.7 L430.1,506.6 L430.6,506.6 L431.1,506.6 L431.6,506.8 L432.1,507.2 L432.6,506.5 L433.1,506.7 L433.6,506.7 L434.1,506.8 L434.6,506.9 L435.1,506.9 L435.6,506.9 L436.1,506.6 L436.6,506.3 L437.1,506.8 L437.6,506.9 L438.1,506.6 L438.1,506.6 L438.6,507.5 L439.1,511.3 L439.6,516.0 L440.0,521.7 L440.0,524.7 L440.6,524.7 L441.0,524.7 L441.5,521.3 L442.0,518.4 L442.5,516.0 L443.0,513.5 L443.5,511.3 L444.0,508.9 L444.5,506.6 L445.0,504.2 L445.5,503.8 L446.0,503.8 L446.5,503.2 L447.0,502.6 L447.5,503.0 L448.0,503.1 L448.5,502.9 L449.0,502.4 L449.5,502.0 L450.0,501.6 L450.5,501.9 L451.0,502.2 L451.5,501.8 L452.0,501.9 L452.5,501.8 L453.0,501.8 L453.5,501.9 L454.0,502.3 L454.5,501.9 L455.0,502.0 L455.5,502.2 L456.0,501.9 L456.5,501.8 L457.0,501.5 L457.5,501.9 L458.0,501.7 L458.5,501.6 L459.0,501.7 L459.5,501.5 L460.0,501.4 L460.5,501.5 L461.0,501.9 L461.5,501.8 L462.0,501.9 L462.5,501.5 L463.0,501.2 L463.5,501.8 L464.0,501.7 L464.5,501.4 L465.0,501.5 L465.5,501.7 L466.0,501.3 L466.5,501.3 L467.0,501.6 L467.5,501.4 L468.0,501.7 L468.5,501.9 L469.0,501.9 L469.5,501.7 L470.0,501.7 L470.5,501.5 L471.0,501.6 L471.5,501.7 L472.0,501.6 L472.5,501.9 L473.0,502.4 L473.5,501.9 L474.0,501.9 L474.5,501.9 L475.0,501.9 L475.5,501.7 L476.0,501.6 L476.5,501.9 L477.0,501.9 L477.5,501.9 L478.0,501.6 L478.5,501.8 L479.0,501.9 L479.5,501.7 L480.0,501.8 L480.5,502.2 L481.0,501.5 L481.5,501.7 L482.0,501.4 L482.5,501.2 L483.0,501.4 L483.5,501.6 L484.0,501.6 L484.5,501.4 L485.0,501.2 L485.5,501.3 L486.0,501.4 L486.5,501.3 L487.0,501.1 L487.5,501.8 L488.0,501.5 L488.5,501.5 L488.7,501.6 L489.2,502.8 L489.7,507.6 L490.2,513.5 L490.6,520.7 L490.6,524.7 L491.0,524.7 L491.4,524.7 L491.9,520.5 L492.4,517.3 L492.9,514.2 L493.4,511.4 L493.9,508.4 L494.4,505.5 L494.9,503.4 L495.4,500.7 L495.9,500.2 L496.4,499.9 L496.9,499.5 L497.4,499.1 L497.9,498.4 L498.4,497.9 L498.9,498.3 L499.4,498.4 L499.9,498.4 L500.4,497.9 L500.9,497.5 L501.4,497.5 L501.9,497.5 L502.4,497.9 L502.9,497.8 L503.4,498.4 L503.9,498.2 L504.4,498.1 L504.9,498.5 L505.4,498.5 L505.9,498.3 L506.4,498.6 L506.9,499.0 L507.4,498.4 L507.9,498.3 L508.4,498.1 L508.9,497.7 L509.4,498.2 L509.9,498.5 L510.4,498.6 L510.9,498.6 L511.4,498.0 L511.9,498.1 L512.4,498.1 L512.9,497.9 L513.4,497.8 L513.9,498.3 L514.4,498.2 L514.9,498.7 L515.4,498.6 L515.9,498.0 L516.4,498.3 L516.9,498.6 L517.4,498.4 L517.9,498.0 L518.4,498.6 L518.9,498.1 L519.4,498.1 L519.9,497.7 L520.4,497.6 L520.9,497.5 L521.4,498.1 L521.9,498.5 L522.4,498.2 L522.9,497.9 L523.4,498.0 L523.9,498.2 L524.4,497.8 L524.9,497.7 L525.4,497.9 L525.9,498.2 L526.4,498.2 L526.9,498.3 L527.4,497.9 L527.9,497.4 L528.4,497.8 L528.9,497.7 L529.4,497.9 L529.9,497.9 L530.4,498.1 L530.9,497.9 L531.4,498.4 L531.9,498.2 L532.4,498.3 L532.9,498.3 L533.4,498.4 L533.9,498.3 L534.4,497.8 L534.9,497.7 L535.4,498.3 L535.9,498.3 L536.4,498.3 L536.9,498.3 L537.4,498.0 L537.9,497.8 L538.1,498.0 L538.6,499.4 L539.1,504.9 L539.6,511.8 L540.0,520.0 L540.0,524.7 L540.4,524.7 L540.8,524.7 L541.3,520.1 L541.8,516.4 L542.3,513.1 L542.8,509.8 L543.3,506.8 L543.8,503.7 L544.3,500.3 L544.8,497.8 L545.3,497.0 L545.8,496.7 L546.3,496.1 L546.8,495.5 L547.3,495.2 L547.8,494.7 L548.3,494.3 L548.8,494.2 L549.3,494.2 L549.8,494.0 L550.3,494.2 L550.8,494.4 L551.3,494.9 L551.8,495.2 L552.3,494.8 L552.8,494.9 L553.3,494.6 L553.8,494.7 L554.3,494.6 L554.8,494.5 L555.3,494.6 L555.8,494.2 L556.3,494.5 L556.8,494.5 L557.3,494.3 L557.8,494.3 L558.3,494.6 L558.8,494.4 L559.3,494.6 L559.8,494.8 L560.3,495.1 L560.8,494.5 L561.3,494.5 L561.8,494.7 L562.3,495.0 L562.8,494.9 L563.3,494.9 L563.8,494.3 L564.3,494.3 L564.8,494.9 L565.3,494.6 L565.8,495.2 L566.3,494.7 L566.8,494.5 L567.3,494.1 L567.8,494.5 L568.3,494.6 L568.8,495.1 L569.3,494.8 L569.8,494.6 L570.3,494.2 L570.8,494.3 L571.3,494.7 L571.8,494.8 L572.3,495.0 L572.8,495.0 L573.3,494.7 L573.8,494.8 L574.3,494.7 L574.8,494.2 L575.3,494.8 L575.8,494.7 L576.3,494.3 L576.8,494.5 L577.3,494.6 L577.8,494.8 L578.3,495.0 L578.8,493.9 L579.3,494.3 L579.8,494.8 L580.3,494.4 L580.8,493.9 L581.3,494.3 L581.8,494.4 L582.3,494.5 L582.8,494.2 L583.3,494.2 L583.8,494.4 L584.3,494.6 L584.8,495.1 L585.3,494.8 L585.8,494.5 L586.3,493.8 L586.8,494.4 L587.3,494.4 L587.8,494.4 L588.3,494.1 L588.8,494.5 L589.0,494.4 L589.5,496.0 L590.0,502.2 L590.5,509.9 L590.9,519.3 L590.9,524.7 L591.3,524.7 L591.7,524.7 L592.2,518.9 L592.7,514.3 L593.2,510.0 L593.7,506.2 L594.2,502.1 L594.7,498.3 L595.2,494.8 L595.7,490.6 L596.2,489.8 L596.7,489.2 L597.2,489.0 L597.7,488.2 L598.2,488.1 L598.7,487.8 L599.2,487.0 L599.7,486.6 L600.2,486.3 L600.7,486.6 L601.2,486.7 L601.7,486.9 L602.2,487.0 L602.7,486.6 L603.2,486.9 L603.7,486.9 L604.2,486.9 L604.7,486.8 L605.2,486.3 L605.7,486.5 L606.2,486.2 L606.7,486.0 L607.2,486.1 L607.7,486.3 L608.2,486.4 L608.7,486.4 L609.2,486.1 L609.7,486.4 L610.2,486.2 L610.7,486.0 L611.2,486.3 L611.7,486.9 L612.2,486.6 L612.7,486.3 L613.2,486.8 L613.7,487.2 L614.2,486.8 L614.7,486.6 L615.2,486.6 L615.7,487.3 L616.2,486.8 L616.7,486.8 L617.2,486.6 L617.7,485.8 L618.2,485.5 L618.7,485.3 L619.2,485.7 L619.7,485.7 L620.2,486.2 L620.7,485.8 L621.2,485.7 L621.7,485.6 L622.2,485.5 L622.7,486.1 L623.2,485.7 L623.7,485.8 L624.2,485.8 L624.7,485.2 L625.2,485.2 L625.7,484.9 L626.2,484.8 L626.7,484.8 L627.2,484.6 L627.7,484.4 L628.2,484.9 L628.7,484.5 L629.2,484.6 L629.7,484.8 L630.2,484.6 L630.7,484.6 L631.2,484.7 L631.7,484.6 L632.2,484.7 L632.7,483.7 L633.2,484.2 L633.7,483.9 L634.2,483.1 L634.7,483.0 L635.2,482.7 L635.7,483.0 L636.2,482.6 L636.7,482.5 L637.2,482.8 L637.7,482.9 L638.2,482.6 L638.7,482.6 L639.2,482.6 L639.7,482.6 L640.2,482.5 L640.7,482.4 L641.2,482.6 L641.7,482.0 L642.2,481.9 L642.5,482.2 L643.0,484.4 L643.5,493.0 L644.0,503.9 L644.4,516.8 L644.3,525.3 L645.5,434.5 L647.7,504.0 L649.7,489.8 L650.4,466.0 L650.9,466.5 L651.4,467.0 L651.9,467.5 L652.4,468.1 L652.9,469.0 L653.4,470.0 L653.9,470.4 L654.4,470.8 L654.9,471.6 L655.4,471.8 L655.9,471.4 L656.4,472.2 L656.9,472.5 L657.4,472.7 L657.9,473.4 L658.4,473.7 L658.9,473.7 L659.4,473.4 L659.9,473.5 L660.4,474.3 L660.9,474.8 L661.4,475.4 L661.9,475.7 L662.4,475.4 L662.9,475.0 L663.4,474.8 L663.9,475.0 L664.4,474.7 L664.9,475.2 L665.4,474.7 L665.9,474.3 L666.4,474.6 L666.9,474.2 L667.4,475.1 L667.9,474.7 L668.4,474.7 L668.9,474.7 L669.4,474.4 L669.9,473.9 L670.4,473.6 L670.9,474.4 L671.4,474.9 L671.9,475.6 L672.4,474.8 L672.9,475.1 L673.4,475.1 L673.9,475.5 L674.4,475.2 L674.9,475.6 L675.4,475.9 L675.9,475.9 L676.4,476.3 L676.9,476.0 L677.4,476.5 L677.9,476.0 L678.4,476.6 L678.9,475.5 L679.4,475.9 L679.9,475.9 L680.4,476.2 L680.9,476.7 L681.4,476.9 L681.9,476.8 L682.4,477.3 L682.9,476.6 L683.4,476.4 L683.9,477.2 L684.4,477.2 L684.9,476.4 L685.4,476.9 L685.9,476.6 L686.4,477.4 L686.9,477.8 L687.4,477.4 L687.9,477.9 L688.0,477.4 L690.5,478.6 L692.5,480.8 L694.0,484.1 L695.3,489.4 L696.2,498.6 L696.8,510.1 L697.3,521.7 L697.6,525.5" stroke="#37AD6B"/>
<path d="M148.4,518.1 L150.0,519.0 L151.4,520.8 L152.4,523.4 L153.0,520.5 L153.4,520.5 L153.8,520.9 L154.3,521.6 L154.8,522.7 L155.3,523.9 L155.8,523.1 L156.3,522.1 L156.8,520.8 L157.3,519.7 L157.8,518.5 L158.3,518.3 L158.8,517.6 L159.3,516.9 L159.8,516.9 L160.3,516.7 L160.8,516.4 L161.3,516.6 L161.8,516.4 L162.3,516.1 L162.8,515.8 L163.3,515.3 L163.8,515.5 L164.3,515.7 L164.8,515.5 L165.3,515.3 L165.8,515.3 L166.3,515.1 L166.8,515.2 L167.3,515.4 L167.8,515.6 L168.3,515.5 L168.8,515.4 L169.3,515.4 L169.8,515.5 L170.3,515.3 L170.8,515.1 L171.3,515.0 L171.8,514.9 L172.3,514.9 L172.8,515.0 L173.3,515.1 L173.8,515.1 L174.3,515.1 L174.8,515.0 L175.3,515.1 L175.8,515.2 L176.3,515.2 L176.8,515.3 L177.3,515.1 L177.8,515.0 L178.3,515.2 L178.8,515.1 L179.3,515.1 L179.8,514.9 L180.3,515.0 L180.8,514.9 L181.3,514.7 L181.8,514.8 L182.3,514.7 L182.8,514.9 L183.3,514.8 L183.8,514.8 L184.3,514.7 L184.8,514.8 L185.3,514.6 L185.8,514.8 L186.3,514.5 L186.8,514.5 L187.3,514.5 L187.8,514.7 L188.3,514.6 L188.8,514.7 L189.3,514.6 L189.8,514.5 L190.3,514.3 L190.8,514.4 L191.3,514.4 L191.8,514.5 L192.3,514.5 L192.8,514.7 L193.3,514.5 L193.8,514.4 L194.3,514.2 L194.8,514.3 L195.3,514.4 L195.5,514.4 L196.0,515.0 L196.5,517.2 L197.0,520.0 L197.4,523.3 L197.4,518.5 L198.6,518.5 L199.0,519.0 L199.5,520.0 L200.0,521.5 L200.5,523.2 L201.0,522.0 L201.5,520.5 L202.0,518.8 L202.5,517.2 L203.0,515.5 L203.5,514.6 L204.0,513.6 L204.5,512.9 L205.0,512.4 L205.5,512.3 L206.0,511.7 L206.5,511.6 L207.0,511.2 L207.5,510.8 L208.0,510.7 L208.5,510.7 L209.0,510.4 L209.5,510.5 L210.0,510.2 L210.5,510.0 L211.0,510.1 L211.5,510.1 L212.0,509.9 L212.5,509.6 L213.0,509.8 L213.5,509.9 L214.0,509.9 L214.5,509.9 L215.0,509.6 L215.5,509.8 L216.0,509.9 L216.5,509.9 L217.0,509.8 L217.5,509.8 L218.0,509.8 L218.5,510.0 L219.0,509.9 L219.5,509.9 L220.0,509.7 L220.5,509.9 L221.0,510.0 L221.5,509.8 L222.0,509.9 L222.5,509.8 L223.0,509.7 L223.5,509.5 L224.0,509.9 L224.5,509.4 L225.0,509.6 L225.5,509.5 L226.0,509.8 L226.5,509.6 L227.0,509.6 L227.5,509.7 L228.0,509.7 L228.5,509.5 L229.0,509.6 L229.5,509.6 L230.0,509.8 L230.5,509.5 L231.0,509.5 L231.5,509.4 L232.0,509.3 L232.5,509.4 L233.0,509.5 L233.5,509.7 L234.0,509.5 L234.5,509.5 L235.0,509.6 L235.5,509.5 L236.0,509.4 L236.5,509.4 L237.0,509.2 L237.5,509.1 L238.0,509.4 L238.5,509.4 L239.0,509.3 L239.5,509.0 L240.0,509.2 L240.5,509.4 L241.0,509.1 L241.5,509.2 L242.0,510.0 L242.5,513.3 L243.0,517.4 L243.4,522.2 L243.4,518.5 L245.6,518.5 L246.0,518.8 L246.5,519.6 L247.0,520.6 L247.5,521.9 L248.0,519.7 L248.5,517.0 L249.0,514.0 L249.5,511.3 L250.0,508.5 L250.5,507.0 L251.0,506.0 L251.5,504.8 L252.0,503.7 L252.5,503.0 L253.0,502.4 L253.5,501.8 L254.0,501.5 L254.5,501.3 L255.0,501.4 L255.5,500.4 L256.0,500.1 L256.5,499.8 L257.0,500.2 L257.5,500.7 L258.0,500.4 L258.5,500.2 L259.0,500.3 L259.5,499.4 L260.0,499.5 L260.5,498.9 L261.0,499.3 L261.5,499.4 L262.0,499.4 L262.5,499.6 L263.0,499.4 L263.5,499.7 L264.0,499.6 L264.5,499.7 L265.0,500.2 L265.5,499.7 L266.0,499.8 L266.5,499.4 L267.0,499.7 L267.5,499.8 L268.0,499.6 L268.5,499.7 L269.0,499.9 L269.5,499.9 L270.0,499.6 L270.5,499.4 L271.0,499.6 L271.5,499.1 L272.0,499.0 L272.5,499.2 L273.0,499.3 L273.5,499.7 L274.0,499.8 L274.5,499.6 L275.0,499.4 L275.5,499.0 L276.0,499.0 L276.5,499.1 L277.0,499.0 L277.5,499.0 L278.0,499.2 L278.5,498.8 L279.0,498.8 L279.5,498.4 L280.0,499.0 L280.5,498.7 L281.0,498.4 L281.5,498.8 L282.0,498.8 L282.5,499.1 L283.0,498.9 L283.5,499.3 L284.0,499.2 L284.5,499.0 L285.0,498.9 L285.5,498.8 L286.0,499.0 L286.5,499.3 L287.0,498.9 L287.5,498.5 L288.0,498.7 L288.5,498.9 L289.0,498.4 L289.5,498.3 L290.0,498.2 L290.1,498.6 L290.6,499.9 L291.1,505.3 L291.6,512.0 L292.0,520.1 L292.0,518.5 L294.8,518.5 L295.2,518.6 L295.7,519.0 L296.2,519.5 L296.7,519.9 L297.2,516.5 L297.7,511.5 L298.2,507.2 L298.7,502.6 L299.2,499.0 L299.7,497.0 L300.2,494.9 L300.7,493.4 L301.2,492.2 L301.7,491.1 L302.2,490.6 L302.7,490.3 L303.2,489.2 L303.7,488.9 L304.2,489.2 L304.7,488.9 L305.2,488.3 L305.7,487.9 L306.2,487.6 L306.7,487.2 L307.2,487.8 L307.7,487.7 L308.2,487.4 L308.7,487.1 L309.2,487.2 L309.7,487.1 L310.2,487.8 L310.7,487.4 L311.2,487.4 L311.7,487.7 L312.2,487.7 L312.7,487.4 L313.2,486.7 L313.7,487.4 L314.2,487.5 L314.7,487.2 L315.2,487.2 L315.7,486.9 L316.2,486.8 L316.7,486.5 L317.2,487.0 L317.7,487.2 L318.2,487.2 L318.7,487.4 L319.2,487.4 L319.7,487.3 L320.2,486.9 L320.7,487.2 L321.2,487.4 L321.7,487.4 L322.2,487.6 L322.7,487.2 L323.2,486.8 L323.7,487.2 L324.2,486.9 L324.7,487.0 L325.2,486.9 L325.7,486.9 L326.2,486.8 L326.7,486.7 L327.2,486.3 L327.7,487.1 L328.2,487.1 L328.7,486.4 L329.2,486.4 L329.7,486.3 L330.2,486.3 L330.7,485.8 L331.2,486.5 L331.7,487.1 L332.2,486.9 L332.7,487.0 L333.2,487.1 L333.7,486.5 L334.2,487.0 L334.7,486.4 L335.2,486.4 L335.7,486.4 L336.2,486.9 L336.7,486.8 L337.2,486.7 L337.7,486.4 L338.2,486.6 L338.7,486.6 L339.2,486.8 L339.5,486.6 L340.0,488.5 L340.5,496.3 L341.0,506.1 L341.4,517.7 L341.4,518.5 L343.2,518.5 L343.6,518.5 L344.1,518.4 L344.6,518.2 L345.1,517.9 L345.6,511.1 L346.1,502.3 L346.6,493.4 L347.1,485.0 L347.6,478.0 L348.1,476.5 L348.6,475.1 L349.1,473.8 L349.6,473.4 L350.1,472.4 L350.6,472.2 L351.1,471.3 L351.6,470.9 L352.1,470.7 L352.6,470.3 L353.1,470.1 L353.6,469.8 L354.1,469.1 L354.6,468.6 L355.1,468.6 L355.6,469.2 L356.1,468.8 L356.6,468.3 L357.1,468.2 L357.6,468.4 L358.1,468.8 L358.6,468.5 L359.1,468.7 L359.6,468.7 L360.1,468.5 L360.6,468.1 L361.1,468.3 L361.6,468.1 L362.1,468.5 L362.6,467.9 L363.1,468.6 L363.6,468.8 L364.1,468.9 L364.6,469.2 L365.1,469.1 L365.6,468.2 L366.1,468.4 L366.6,468.7 L367.1,468.4 L367.6,468.1 L368.1,468.5 L368.6,468.7 L369.1,468.5 L369.6,468.5 L370.1,468.4 L370.6,468.3 L371.1,468.5 L371.6,468.9 L372.1,468.2 L372.6,468.3 L373.1,469.1 L373.6,469.0 L374.1,468.9 L374.6,469.1 L375.1,468.5 L375.6,468.2 L376.1,467.9 L376.6,467.8 L377.1,468.3 L377.6,468.8 L378.1,468.6 L378.6,468.5 L379.1,468.7 L379.6,469.0 L380.1,469.0 L380.6,468.2 L381.1,468.3 L381.6,467.7 L382.1,468.3 L382.6,468.3 L383.1,468.3 L383.6,469.1 L384.1,469.4 L384.6,469.3 L385.1,469.2 L385.6,469.1 L386.1,468.8 L386.6,468.8 L387.1,469.5 L387.6,468.9 L388.1,468.7 L388.6,468.8 L389.0,468.9 L389.5,471.7 L390.0,483.0 L390.5,497.2 L390.9,514.2 L390.9,518.5 L391.7,518.5 L392.1,518.3 L392.6,517.7 L393.1,516.7 L393.6,515.7 L394.1,505.8 L394.6,493.5 L395.1,481.6 L395.6,469.5 L396.1,460.0 L396.6,459.0 L397.1,457.6 L397.6,456.9 L398.1,456.2 L398.6,455.4 L399.1,454.9 L399.6,455.1 L400.1,454.5 L400.6,453.5 L401.1,453.3 L401.6,453.7 L402.1,454.3 L402.6,453.3 L403.1,452.9 L403.6,452.7 L404.1,452.1 L404.6,452.4 L405.1,452.3 L405.6,452.3 L406.1,453.0 L406.6,452.3 L407.1,452.4 L407.6,452.5 L408.1,451.9 L408.6,451.6 L409.1,452.3 L409.6,452.4 L410.1,452.1 L410.6,451.5 L411.1,452.0 L411.6,452.1 L412.1,452.7 L412.6,452.8 L413.1,452.5 L413.6,452.2 L414.1,451.9 L414.6,451.6 L415.1,451.7 L415.6,451.7 L416.1,451.9 L416.6,452.1 L417.1,452.0 L417.6,451.5 L418.1,451.8 L418.6,452.3 L419.1,451.5 L419.6,451.6 L420.1,451.7 L420.6,451.8 L421.1,451.8 L421.6,451.5 L422.1,451.4 L422.6,452.0 L423.1,452.3 L423.6,451.3 L424.1,450.3 L424.6,450.9 L425.1,450.8 L425.6,450.8 L426.1,450.4 L426.6,450.9 L427.1,451.0 L427.6,450.9 L428.1,451.4 L428.6,452.2 L429.1,452.2 L429.6,452.1 L430.1,451.4 L430.6,451.5 L431.1,451.2 L431.6,451.6 L432.1,451.5 L432.6,451.2 L433.1,451.3 L433.6,450.8 L434.1,451.2 L434.6,451.6 L435.1,451.1 L435.6,451.2 L436.1,450.4 L436.6,451.0 L437.1,451.2 L437.6,450.6 L438.1,451.4 L438.1,450.8 L438.6,454.5 L439.1,469.5 L439.6,488.1 L440.0,510.6 L440.0,518.5 L440.6,518.5 L441.0,517.9 L441.5,516.4 L442.0,514.3 L442.5,512.3 L443.0,498.2 L443.5,481.6 L444.0,464.0 L444.5,447.2 L445.0,433.9 L445.5,432.3 L446.0,431.7 L446.5,430.6 L447.0,430.0 L447.5,429.5 L448.0,429.9 L448.5,428.3 L449.0,428.3 L449.5,428.4 L450.0,427.2 L450.5,427.0 L451.0,427.8 L451.5,427.6 L452.0,425.5 L452.5,425.6 L453.0,424.9 L453.5,425.4 L454.0,425.1 L454.5,425.2 L455.0,425.2 L455.5,425.8 L456.0,425.7 L456.5,425.6 L457.0,425.9 L457.5,426.3 L458.0,426.1 L458.5,426.9 L459.0,426.1 L459.5,426.7 L460.0,426.6 L460.5,427.6 L461.0,427.1 L461.5,426.9 L462.0,426.5 L462.5,428.0 L463.0,428.1 L463.5,427.4 L464.0,427.5 L464.5,427.3 L465.0,428.4 L465.5,428.5 L466.0,427.5 L466.5,428.0 L467.0,428.7 L467.5,428.5 L468.0,428.7 L468.5,428.5 L469.0,428.6 L469.5,428.6 L470.0,428.2 L470.5,428.5 L471.0,428.5 L471.5,428.5 L472.0,428.1 L472.5,427.8 L473.0,428.3 L473.5,428.7 L474.0,427.5 L474.5,427.7 L475.0,428.7 L475.5,429.0 L476.0,428.4 L476.5,429.1 L477.0,428.3 L477.5,428.1 L478.0,429.2 L478.5,428.6 L479.0,428.5 L479.5,427.7 L480.0,427.7 L480.5,427.6 L481.0,428.0 L481.5,427.4 L482.0,428.5 L482.5,428.3 L483.0,428.2 L483.5,428.1 L484.0,428.7 L484.5,429.3 L485.0,428.8 L485.5,429.4 L486.0,429.7 L486.5,429.8 L487.0,429.3 L487.5,428.3 L488.0,428.7 L488.5,428.5 L488.7,428.6 L489.2,433.4 L489.7,452.8 L490.2,477.1 L490.6,506.1 L490.6,518.5 L491.0,518.5 L491.4,517.6 L491.9,515.3 L492.4,512.4 L492.9,509.1 L493.4,491.0 L493.9,469.7 L494.4,448.8 L494.9,427.2 L495.4,409.3 L495.9,409.3 L496.4,406.6 L496.9,405.5 L497.4,405.4 L497.9,404.5 L498.4,403.0 L498.9,403.4 L499.4,403.7 L499.9,402.9 L500.4,403.5 L500.9,403.2 L501.4,403.3 L501.9,401.8 L502.4,401.8 L502.9,402.5 L503.4,403.1 L503.9,403.3 L504.4,402.8 L504.9,402.7 L505.4,402.4 L505.9,403.2 L506.4,402.8 L506.9,403.1 L507.4,402.3 L507.9,402.2 L508.4,404.0 L508.9,404.2 L509.4,404.4 L509.9,403.4 L510.4,404.1 L510.9,405.7 L511.4,404.7 L511.9,403.9 L512.4,404.8 L512.9,404.9 L513.4,405.1 L513.9,404.7 L514.4,404.4 L514.9,404.3 L515.4,405.3 L515.9,405.4 L516.4,405.9 L516.9,405.1 L517.4,405.6 L517.9,405.3 L518.4,405.4 L518.9,405.9 L519.4,405.7 L519.9,405.4 L520.4,404.5 L520.9,405.0 L521.4,405.6 L521.9,405.2 L522.4,405.2 L522.9,404.4 L523.4,404.2 L523.9,404.9 L524.4,405.8 L524.9,405.4 L525.4,404.5 L525.9,404.7 L526.4,404.2 L526.9,404.6 L527.4,405.9 L527.9,405.7 L528.4,405.4 L528.9,405.8 L529.4,405.3 L529.9,405.4 L530.4,405.4 L530.9,405.5 L531.4,404.6 L531.9,405.2 L532.4,405.6 L532.9,404.2 L533.4,403.2 L533.9,403.7 L534.4,405.2 L534.9,405.1 L535.4,405.4 L535.9,405.5 L536.4,405.7 L536.9,405.0 L537.4,404.7 L537.9,405.1 L538.1,405.0 L538.6,411.0 L539.1,435.1 L539.6,465.2 L540.0,501.4 L540.0,518.5 L540.4,518.5 L540.8,517.3 L541.3,514.5 L541.8,510.7 L542.3,505.9 L542.8,484.5 L543.3,458.7 L543.8,433.1 L544.3,405.8 L544.8,385.6 L545.3,382.8 L545.8,382.3 L546.3,381.1 L546.8,380.6 L547.3,379.7 L547.8,379.1 L548.3,378.9 L548.8,378.6 L549.3,377.6 L549.8,376.0 L550.3,376.1 L550.8,377.1 L551.3,376.8 L551.8,377.4 L552.3,377.4 L552.8,377.0 L553.3,378.2 L553.8,379.1 L554.3,378.6 L554.8,378.5 L555.3,379.0 L555.8,378.1 L556.3,378.0 L556.8,379.1 L557.3,379.6 L557.8,379.2 L558.3,378.9 L558.8,379.4 L559.3,378.8 L559.8,379.1 L560.3,379.5 L560.8,378.5 L561.3,379.8 L561.8,380.6 L562.3,381.3 L562.8,380.3 L563.3,380.0 L563.8,380.1 L564.3,380.0 L564.8,382.0 L565.3,381.0 L565.8,380.9 L566.3,381.1 L566.8,381.3 L567.3,381.9 L567.8,380.8 L568.3,381.3 L568.8,381.0 L569.3,380.1 L569.8,380.4 L570.3,379.6 L570.8,380.9 L571.3,380.2 L571.8,380.7 L572.3,381.2 L572.8,380.2 L573.3,379.6 L573.8,379.8 L574.3,379.2 L574.8,379.9 L575.3,379.9 L575.8,379.3 L576.3,379.1 L576.8,379.8 L577.3,378.9 L577.8,380.3 L578.3,379.6 L578.8,379.6 L579.3,379.2 L579.8,380.5 L580.3,380.7 L580.8,381.1 L581.3,380.9 L581.8,380.5 L582.3,381.2 L582.8,381.0 L583.3,380.8 L583.8,380.8 L584.3,380.9 L584.8,380.7 L585.3,380.4 L585.8,379.4 L586.3,381.0 L586.8,379.9 L587.3,378.9 L587.8,379.2 L588.3,380.9 L588.8,381.4 L589.0,380.4 L589.5,387.7 L590.0,416.7 L590.5,452.9 L590.9,496.5 L590.9,518.5 L591.3,518.5 L591.7,516.7 L592.2,512.5 L592.7,506.9 L593.2,499.6 L593.7,470.2 L594.2,435.4 L594.7,400.9 L595.2,365.0 L595.7,335.7 L596.2,335.2 L596.7,336.5 L597.2,337.2 L597.7,337.7 L598.2,337.9 L598.7,337.8 L599.2,337.1 L599.7,338.1 L600.2,338.7 L600.7,339.2 L601.2,340.1 L601.7,339.0 L602.2,337.9 L602.7,337.9 L603.2,340.6 L603.7,340.1 L604.2,340.8 L604.7,341.0 L605.2,341.8 L605.7,344.0 L606.2,342.7 L606.7,342.5 L607.2,342.2 L607.7,342.8 L608.2,343.4 L608.7,342.9 L609.2,344.3 L609.7,345.0 L610.2,345.0 L610.7,344.8 L611.2,344.8 L611.7,343.5 L612.2,344.2 L612.7,343.3 L613.2,343.0 L613.7,343.8 L614.2,342.7 L614.7,342.3 L615.2,342.9 L615.7,343.7 L616.2,342.3 L616.7,342.7 L617.2,341.5 L617.7,341.5 L618.2,341.5 L618.7,340.2 L619.2,340.9 L619.7,341.5 L620.2,340.4 L620.7,339.9 L621.2,338.5 L621.7,339.5 L622.2,338.7 L622.7,337.2 L623.2,337.7 L623.7,336.2 L624.2,335.8 L624.7,334.5 L625.2,335.9 L625.7,337.1 L626.2,335.5 L626.7,334.6 L627.2,333.9 L627.7,333.5 L628.2,333.8 L628.7,334.3 L629.2,332.8 L629.7,332.8 L630.2,331.2 L630.7,332.4 L631.2,331.7 L631.7,330.8 L632.2,331.7 L632.7,330.8 L633.2,331.2 L633.7,331.0 L634.2,331.2 L634.7,329.4 L635.2,328.9 L635.7,328.7 L636.2,328.0 L636.7,328.7 L637.2,327.4 L637.7,327.9 L638.2,328.3 L638.7,326.2 L639.2,325.7 L639.7,325.4 L640.2,325.4 L640.7,325.9 L641.2,325.7 L641.7,325.6 L642.2,325.2 L642.5,325.4 L643.0,335.4 L643.5,375.4 L644.0,425.4 L644.4,485.5 L644.3,525.3 L645.5,82.9 L646.5,505.0 L647.2,336.0 L648.2,456.0 L649.7,354.5 L650.4,240.5 L650.9,245.4 L651.4,251.1 L651.9,256.6 L652.4,258.9 L652.9,262.1 L653.4,264.9 L653.9,267.9 L654.4,268.4 L654.9,271.2 L655.4,273.1 L655.9,274.1 L656.4,274.9 L656.9,276.2 L657.4,277.1 L657.9,277.0 L658.4,279.8 L658.9,282.8 L659.4,281.2 L659.9,280.9 L660.4,282.4 L660.9,283.5 L661.4,282.9 L661.9,282.1 L662.4,283.1 L662.9,281.6 L663.4,283.2 L663.9,282.3 L664.4,282.2 L664.9,281.9 L665.4,281.1 L665.9,280.9 L666.4,280.5 L666.9,281.3 L667.4,280.5 L667.9,280.0 L668.4,279.2 L668.9,278.5 L669.4,277.9 L669.9,278.0 L670.4,279.3 L670.9,279.2 L671.4,278.3 L671.9,279.5 L672.4,279.9 L672.9,279.7 L673.4,279.5 L673.9,279.0 L674.4,279.9 L674.9,280.2 L675.4,279.6 L675.9,279.8 L676.4,282.4 L676.9,282.5 L677.4,283.0 L677.9,283.1 L678.4,282.8 L678.9,283.5 L679.4,284.5 L679.9,284.1 L680.4,284.7 L680.9,285.3 L681.4,284.6 L681.9,284.7 L682.4,284.2 L682.9,285.0 L683.4,284.7 L683.9,285.8 L684.4,285.0 L684.9,286.4 L685.4,285.7 L685.9,285.0 L686.4,284.7 L686.9,285.8 L687.4,285.2 L687.9,287.0 L688.0,286.0 L690.5,292.0 L692.5,302.8 L694.0,319.5 L695.3,345.9 L696.2,391.4 L696.8,448.9 L697.3,506.3 L697.6,525.5" stroke="#B177DE"/>
<path d="M148.4,523.2 L150.0,523.5 L151.4,524.0 L152.4,524.8 L153.0,525.1 L153.4,525.1 L153.8,525.1 L154.3,524.8 L154.8,524.5 L155.3,524.3 L155.8,524.1 L156.3,523.8 L156.8,523.7 L157.3,523.7 L157.8,523.4 L158.3,523.2 L158.8,523.1 L159.3,522.8 L159.8,522.7 L160.3,522.6 L160.8,522.6 L161.3,522.4 L161.8,522.4 L162.3,522.4 L162.8,522.4 L163.3,522.2 L163.8,522.2 L164.3,522.2 L164.8,522.2 L165.3,522.3 L165.8,522.2 L166.3,522.5 L166.8,522.3 L167.3,522.3 L167.8,522.4 L168.3,522.4 L168.8,522.3 L169.3,522.2 L169.8,522.2 L170.3,522.2 L170.8,522.2 L171.3,522.3 L171.8,522.3 L172.3,522.2 L172.8,522.1 L173.3,522.3 L173.8,522.2 L174.3,522.1 L174.8,522.3 L175.3,522.2 L175.8,522.1 L176.3,522.2 L176.8,522.1 L177.3,522.1 L177.8,522.2 L178.3,522.1 L178.8,522.4 L179.3,522.3 L179.8,522.5 L180.3,522.4 L180.8,522.3 L181.3,522.2 L181.8,522.2 L182.3,522.1 L182.8,522.2 L183.3,522.3 L183.8,522.1 L184.3,522.1 L184.8,522.0 L185.3,522.2 L185.8,522.2 L186.3,522.2 L186.8,522.2 L187.3,522.3 L187.8,522.3 L188.3,522.3 L188.8,522.2 L189.3,522.2 L189.8,522.2 L190.3,522.0 L190.8,522.2 L191.3,522.1 L191.8,522.0 L192.3,522.2 L192.8,522.2 L193.3,522.3 L193.8,522.4 L194.3,522.5 L194.8,522.4 L195.3,522.3 L195.5,522.2 L196.0,522.4 L196.5,523.0 L197.0,523.9 L197.4,524.8 L197.4,524.9 L198.6,524.9 L199.0,525.0 L199.5,524.5 L200.0,524.2 L200.5,523.9 L201.0,523.6 L201.5,523.3 L202.0,523.0 L202.5,522.8 L203.0,522.3 L203.5,522.2 L204.0,522.0 L204.5,521.7 L205.0,521.6 L205.5,521.3 L206.0,521.4 L206.5,521.5 L207.0,521.2 L207.5,521.2 L208.0,521.1 L208.5,521.0 L209.0,520.9 L209.5,520.9 L210.0,520.7 L210.5,520.7 L211.0,520.9 L211.5,520.9 L212.0,520.9 L212.5,520.9 L213.0,520.9 L213.5,520.7 L214.0,520.7 L214.5,520.8 L215.0,520.9 L215.5,520.7 L216.0,520.7 L216.5,520.6 L217.0,520.8 L217.5,520.8 L218.0,520.8 L218.5,520.7 L219.0,520.8 L219.5,520.8 L220.0,520.7 L220.5,520.8 L221.0,520.7 L221.5,520.9 L222.0,520.9 L222.5,520.8 L223.0,520.8 L223.5,520.8 L224.0,520.7 L224.5,520.7 L225.0,520.6 L225.5,520.6 L226.0,520.7 L226.5,520.9 L227.0,520.8 L227.5,520.8 L228.0,520.8 L228.5,520.9 L229.0,520.9 L229.5,521.0 L230.0,521.0 L230.5,520.8 L231.0,520.8 L231.5,520.6 L232.0,520.7 L232.5,520.7 L233.0,520.8 L233.5,520.8 L234.0,520.9 L234.5,521.0 L235.0,520.8 L235.5,520.7 L236.0,520.8 L236.5,520.9 L237.0,520.8 L237.5,520.9 L238.0,520.7 L238.5,520.8 L239.0,520.9 L239.5,521.0 L240.0,520.9 L240.5,520.8 L241.0,520.9 L241.5,520.8 L242.0,521.0 L242.5,522.0 L243.0,523.1 L243.4,524.6 L243.4,524.7 L245.6,524.7 L246.0,524.7 L246.5,523.7 L247.0,522.9 L247.5,522.2 L248.0,521.5 L248.5,520.8 L249.0,520.2 L249.5,519.6 L250.0,519.0 L250.5,518.4 L251.0,517.9 L251.5,517.6 L252.0,517.2 L252.5,516.9 L253.0,516.5 L253.5,515.9 L254.0,515.9 L254.5,516.1 L255.0,515.9 L255.5,515.8 L256.0,515.6 L256.5,515.8 L257.0,515.7 L257.5,515.7 L258.0,515.9 L258.5,515.8 L259.0,516.1 L259.5,515.8 L260.0,515.8 L260.5,515.8 L261.0,515.6 L261.5,515.6 L262.0,515.5 L262.5,515.4 L263.0,515.5 L263.5,515.4 L264.0,515.7 L264.5,515.5 L265.0,515.4 L265.5,515.5 L266.0,515.4 L266.5,515.5 L267.0,515.4 L267.5,515.2 L268.0,515.0 L268.5,515.1 L269.0,515.5 L269.5,515.6 L270.0,515.6 L270.5,515.5 L271.0,515.5 L271.5,515.5 L272.0,515.3 L272.5,515.3 L273.0,515.2 L273.5,515.6 L274.0,515.4 L274.5,515.6 L275.0,515.5 L275.5,515.9 L276.0,515.7 L276.5,515.6 L277.0,515.7 L277.5,515.7 L278.0,515.7 L278.5,515.4 L279.0,515.6 L279.5,515.8 L280.0,515.6 L280.5,515.5 L281.0,515.3 L281.5,515.5 L282.0,515.5 L282.5,515.5 L283.0,515.3 L283.5,515.6 L284.0,515.6 L284.5,515.5 L285.0,515.7 L285.5,515.4 L286.0,515.6 L286.5,515.3 L287.0,515.6 L287.5,515.5 L288.0,515.6 L288.5,515.4 L289.0,515.5 L289.5,515.6 L290.0,515.4 L290.1,515.4 L290.6,515.9 L291.1,517.9 L291.6,520.5 L292.0,523.5 L292.0,524.7 L294.8,524.7 L295.2,524.7 L295.7,523.6 L296.2,522.7 L296.7,521.8 L297.2,521.0 L297.7,520.3 L298.2,519.7 L298.7,518.8 L299.2,518.1 L299.7,517.5 L300.2,516.9 L300.7,516.5 L301.2,516.2 L301.7,516.1 L302.2,515.6 L302.7,515.6 L303.2,515.3 L303.7,515.3 L304.2,515.7 L304.7,515.3 L305.2,515.2 L305.7,515.1 L306.2,515.3 L306.7,515.1 L307.2,514.8 L307.7,514.7 L308.2,514.9 L308.7,515.0 L309.2,515.1 L309.7,515.0 L310.2,515.1 L310.7,514.9 L311.2,515.1 L311.7,515.0 L312.2,514.9 L312.7,514.9 L313.2,515.2 L313.7,514.9 L314.2,514.7 L314.7,514.7 L315.2,514.6 L315.7,514.8 L316.2,514.9 L316.7,514.9 L317.2,514.9 L317.7,515.1 L318.2,515.0 L318.7,514.7 L319.2,514.5 L319.7,514.7 L320.2,514.7 L320.7,514.8 L321.2,514.9 L321.7,515.0 L322.2,514.7 L322.7,514.6 L323.2,514.8 L323.7,514.8 L324.2,515.0 L324.7,514.9 L325.2,514.5 L325.7,514.9 L326.2,514.6 L326.7,514.6 L327.2,514.8 L327.7,514.7 L328.2,515.1 L328.7,515.0 L329.2,515.0 L329.7,514.9 L330.2,515.2 L330.7,515.1 L331.2,514.9 L331.7,515.0 L332.2,514.7 L332.7,514.7 L333.2,514.8 L333.7,514.8 L334.2,514.7 L334.7,515.0 L335.2,515.1 L335.7,514.8 L336.2,514.9 L336.7,514.7 L337.2,514.7 L337.7,514.9 L338.2,514.9 L338.7,514.8 L339.2,514.8 L339.5,514.8 L340.0,515.3 L340.5,517.5 L341.0,520.1 L341.4,523.4 L341.4,524.7 L343.2,524.7 L343.6,524.7 L344.1,522.7 L344.6,521.1 L345.1,519.7 L345.6,518.3 L346.1,516.9 L346.6,515.8 L347.1,514.5 L347.6,513.1 L348.1,512.7 L348.6,512.6 L349.1,512.7 L349.6,512.4 L350.1,512.1 L350.6,511.7 L351.1,511.6 L351.6,511.6 L352.1,511.6 L352.6,511.5 L353.1,511.7 L353.6,511.4 L354.1,511.3 L354.6,511.5 L355.1,511.5 L355.6,511.4 L356.1,511.6 L356.6,511.2 L357.1,511.6 L357.6,511.9 L358.1,512.0 L358.6,511.7 L359.1,511.9 L359.6,511.6 L360.1,511.7 L360.6,511.5 L361.1,511.5 L361.6,511.5 L362.1,511.1 L362.6,511.2 L363.1,511.6 L363.6,510.9 L364.1,511.2 L364.6,511.4 L365.1,511.4 L365.6,511.4 L366.1,511.6 L366.6,511.5 L367.1,511.1 L367.6,511.0 L368.1,511.1 L368.6,511.2 L369.1,511.2 L369.6,511.2 L370.1,511.6 L370.6,510.9 L371.1,511.3 L371.6,511.5 L372.1,511.5 L372.6,511.4 L373.1,511.3 L373.6,511.4 L374.1,511.4 L374.6,511.2 L375.1,511.4 L375.6,511.2 L376.1,511.2 L376.6,511.2 L377.1,511.0 L377.6,511.2 L378.1,511.2 L378.6,511.0 L379.1,511.1 L379.6,510.9 L380.1,511.3 L380.6,511.4 L381.1,511.7 L381.6,511.3 L382.1,511.4 L382.6,511.1 L383.1,511.0 L383.6,511.1 L384.1,511.2 L384.6,511.4 L385.1,511.3 L385.6,511.4 L386.1,511.5 L386.6,511.2 L387.1,511.2 L387.6,511.0 L388.1,511.4 L388.6,511.2 L389.0,511.2 L389.5,511.9 L390.0,514.8 L390.5,518.4 L390.9,522.6 L390.9,524.7 L391.7,524.7 L392.1,524.7 L392.6,522.3 L393.1,520.3 L393.6,518.4 L394.1,516.7 L394.6,514.9 L395.1,513.2 L395.6,511.5 L396.1,510.2 L396.6,509.9 L397.1,509.9 L397.6,509.1 L398.1,509.1 L398.6,508.7 L399.1,508.9 L399.6,508.9 L400.1,508.7 L400.6,508.9 L401.1,508.5 L401.6,508.3 L402.1,508.1 L402.6,508.1 L403.1,508.2 L403.6,508.3 L404.1,508.5 L404.6,508.3 L405.1,508.1 L405.6,508.1 L406.1,508.0 L406.6,508.0 L407.1,508.0 L407.6,507.9 L408.1,508.0 L408.6,508.0 L409.1,508.0 L409.6,507.8 L410.1,508.0 L410.6,508.2 L411.1,508.3 L411.6,508.1 L412.1,507.9 L412.6,507.7 L413.1,507.7 L413.6,507.8 L414.1,507.9 L414.6,507.6 L415.1,508.0 L415.6,507.8 L416.1,507.8 L416.6,507.8 L417.1,508.1 L417.6,508.5 L418.1,508.2 L418.6,508.1 L419.1,508.0 L419.6,508.0 L420.1,508.0 L420.6,508.5 L421.1,508.1 L421.6,508.1 L422.1,507.9 L422.6,508.1 L423.1,508.0 L423.6,508.1 L424.1,507.9 L424.6,508.4 L425.1,508.3 L425.6,507.8 L426.1,508.1 L426.6,508.0 L427.1,507.8 L427.6,508.0 L428.1,507.9 L428.6,508.1 L429.1,508.0 L429.6,508.2 L430.1,508.1 L430.6,508.2 L431.1,508.1 L431.6,508.0 L432.1,507.9 L432.6,508.1 L433.1,508.2 L433.6,508.0 L434.1,508.5 L434.6,508.6 L435.1,508.1 L435.6,508.3 L436.1,508.1 L436.6,508.1 L437.1,507.9 L437.6,508.3 L438.1,508.0 L438.1,508.0 L438.6,508.9 L439.1,512.4 L439.6,516.8 L440.0,522.0 L440.0,524.7 L440.6,524.7 L441.0,524.7 L441.5,521.6 L442.0,519.2 L442.5,517.0 L443.0,514.6 L443.5,512.5 L444.0,510.5 L444.5,508.5 L445.0,506.5 L445.5,505.8 L446.0,505.6 L446.5,505.1 L447.0,505.2 L447.5,505.4 L448.0,504.9 L448.5,505.0 L449.0,504.8 L449.5,504.4 L450.0,504.2 L450.5,504.0 L451.0,504.1 L451.5,504.2 L452.0,504.4 L452.5,504.1 L453.0,503.8 L453.5,503.9 L454.0,504.3 L454.5,504.2 L455.0,504.1 L455.5,503.6 L456.0,503.7 L456.5,503.9 L457.0,503.7 L457.5,504.1 L458.0,503.9 L458.5,503.7 L459.0,503.7 L459.5,503.8 L460.0,504.1 L460.5,503.9 L461.0,503.5 L461.5,503.7 L462.0,503.9 L462.5,504.3 L463.0,503.8 L463.5,504.2 L464.0,504.2 L464.5,504.2 L465.0,503.9 L465.5,503.7 L466.0,503.6 L466.5,503.9 L467.0,504.0 L467.5,504.2 L468.0,504.4 L468.5,504.2 L469.0,504.0 L469.5,504.4 L470.0,503.8 L470.5,503.8 L471.0,503.7 L471.5,503.7 L472.0,503.8 L472.5,503.7 L473.0,504.0 L473.5,503.6 L474.0,503.6 L474.5,503.4 L475.0,503.3 L475.5,503.7 L476.0,503.9 L476.5,503.8 L477.0,504.0 L477.5,504.1 L478.0,503.8 L478.5,503.8 L479.0,503.9 L479.5,504.3 L480.0,504.0 L480.5,504.0 L481.0,504.0 L481.5,504.2 L482.0,504.1 L482.5,504.2 L483.0,503.8 L483.5,503.7 L484.0,503.4 L484.5,503.6 L485.0,504.2 L485.5,504.1 L486.0,504.0 L486.5,503.9 L487.0,503.9 L487.5,503.6 L488.0,503.5 L488.5,503.6 L488.7,503.8 L489.2,504.9 L489.7,509.2 L490.2,514.6 L490.6,521.2 L490.6,524.7 L491.0,524.7 L491.4,524.7 L491.9,520.9 L492.4,517.9 L492.9,515.1 L493.4,512.3 L493.9,509.7 L494.4,507.2 L494.9,505.1 L495.4,503.0 L495.9,502.5 L496.4,501.8 L496.9,501.3 L497.4,500.7 L497.9,500.6 L498.4,501.0 L498.9,501.1 L499.4,500.9 L499.9,500.6 L500.4,500.6 L500.9,500.6 L501.4,500.6 L501.9,500.7 L502.4,500.4 L502.9,500.5 L503.4,500.5 L503.9,500.8 L504.4,500.5 L504.9,500.9 L505.4,500.8 L505.9,500.7 L506.4,500.8 L506.9,500.8 L507.4,500.8 L507.9,500.9 L508.4,500.7 L508.9,500.3 L509.4,500.7 L509.9,500.7 L510.4,501.1 L510.9,501.0 L511.4,500.4 L511.9,500.9 L512.4,500.6 L512.9,500.8 L513.4,501.3 L513.9,501.3 L514.4,500.7 L514.9,500.7 L515.4,500.3 L515.9,500.6 L516.4,500.8 L516.9,500.5 L517.4,500.7 L517.9,500.9 L518.4,501.0 L518.9,500.6 L519.4,500.5 L519.9,500.3 L520.4,500.1 L520.9,500.4 L521.4,500.5 L521.9,500.9 L522.4,500.8 L522.9,500.6 L523.4,500.3 L523.9,500.8 L524.4,500.7 L524.9,500.6 L525.4,500.4 L525.9,500.2 L526.4,500.5 L526.9,500.3 L527.4,500.6 L527.9,500.7 L528.4,500.5 L528.9,500.1 L529.4,500.4 L529.9,500.8 L530.4,500.4 L530.9,500.2 L531.4,500.6 L531.9,500.6 L532.4,500.4 L532.9,500.7 L533.4,500.5 L533.9,500.6 L534.4,500.4 L534.9,500.2 L535.4,500.4 L535.9,500.2 L536.4,499.9 L536.9,500.0 L537.4,500.5 L537.9,500.7 L538.1,500.4 L538.6,501.7 L539.1,506.7 L539.6,513.0 L540.0,520.5 L540.0,524.7 L540.4,524.7 L540.8,524.8 L541.3,520.5 L541.8,517.1 L542.3,513.9 L542.8,510.7 L543.3,507.8 L543.8,504.8 L544.3,502.2 L544.8,499.3 L545.3,498.8 L545.8,498.0 L546.3,497.7 L546.8,497.7 L547.3,497.3 L547.8,496.9 L548.3,496.9 L548.8,497.0 L549.3,496.8 L549.8,496.4 L550.3,496.1 L550.8,496.0 L551.3,496.6 L551.8,496.6 L552.3,496.7 L552.8,497.0 L553.3,496.9 L553.8,496.9 L554.3,496.7 L554.8,496.3 L555.3,496.7 L555.8,496.8 L556.3,497.0 L556.8,496.6 L557.3,496.7 L557.8,497.2 L558.3,496.8 L558.8,496.8 L559.3,497.1 L559.8,496.9 L560.3,496.9 L560.8,496.3 L561.3,496.7 L561.8,496.6 L562.3,497.0 L562.8,496.8 L563.3,496.7 L563.8,496.8 L564.3,496.7 L564.8,496.6 L565.3,497.0 L565.8,497.1 L566.3,496.9 L566.8,497.0 L567.3,497.1 L567.8,497.0 L568.3,496.9 L568.8,496.8 L569.3,496.8 L569.8,496.9 L570.3,496.9 L570.8,496.6 L571.3,496.6 L571.8,496.8 L572.3,496.5 L572.8,496.5 L573.3,496.8 L573.8,496.8 L574.3,496.6 L574.8,496.6 L575.3,496.5 L575.8,496.8 L576.3,496.6 L576.8,496.2 L577.3,496.1 L577.8,496.4 L578.3,496.6 L578.8,496.5 L579.3,496.2 L579.8,496.3 L580.3,496.3 L580.8,496.2 L581.3,496.4 L581.8,496.3 L582.3,496.5 L582.8,496.3 L583.3,496.3 L583.8,496.4 L584.3,496.8 L584.8,497.1 L585.3,497.0 L585.8,496.6 L586.3,496.6 L586.8,496.8 L587.3,496.8 L587.8,496.3 L588.3,496.4 L588.8,496.2 L589.0,496.5 L589.5,497.9 L590.0,503.8 L590.5,511.0 L590.9,519.7 L590.9,524.7 L591.3,524.7 L591.7,524.7 L592.2,519.6 L592.7,515.4 L593.2,511.8 L593.7,508.0 L594.2,504.9 L594.7,501.2 L595.2,497.8 L595.7,495.0 L596.2,493.8 L596.7,493.0 L597.2,492.9 L597.7,492.3 L598.2,492.0 L598.7,491.2 L599.2,491.6 L599.7,491.5 L600.2,491.3 L600.7,491.2 L601.2,490.8 L601.7,490.6 L602.2,490.1 L602.7,490.4 L603.2,490.8 L603.7,490.9 L604.2,490.9 L604.7,490.9 L605.2,490.4 L605.7,490.1 L606.2,490.5 L606.7,490.5 L607.2,490.8 L607.7,490.6 L608.2,490.3 L608.7,490.5 L609.2,490.4 L609.7,490.0 L610.2,490.1 L610.7,490.1 L611.2,490.0 L611.7,490.1 L612.2,490.6 L612.7,491.2 L613.2,491.4 L613.7,490.9 L614.2,491.1 L614.7,490.8 L615.2,490.7 L615.7,490.4 L616.2,490.3 L616.7,489.8 L617.2,490.5 L617.7,490.1 L618.2,490.2 L618.7,489.9 L619.2,490.0 L619.7,489.6 L620.2,489.5 L620.7,489.8 L621.2,489.9 L621.7,489.2 L622.2,489.5 L622.7,489.1 L623.2,489.3 L623.7,489.4 L624.2,489.1 L624.7,489.0 L625.2,488.9 L625.7,489.0 L626.2,489.2 L626.7,489.4 L627.2,489.1 L627.7,489.4 L628.2,488.7 L628.7,489.1 L629.2,488.7 L629.7,488.7 L630.2,488.5 L630.7,488.4 L631.2,488.0 L631.7,488.1 L632.2,488.6 L632.7,488.3 L633.2,488.1 L633.7,487.9 L634.2,488.0 L634.7,487.8 L635.2,487.7 L635.7,487.7 L636.2,487.9 L636.7,487.9 L637.2,487.3 L637.7,487.1 L638.2,487.1 L638.7,487.3 L639.2,487.4 L639.7,487.1 L640.2,487.6 L640.7,487.1 L641.2,487.3 L641.7,487.4 L642.2,487.4 L642.5,486.6 L643.0,488.5 L643.5,496.3 L644.0,506.1 L644.4,517.7 L644.3,525.3 L645.5,444.6 L648.4,502.0 L649.7,493.4 L650.4,472.0 L650.9,473.1 L651.4,473.6 L651.9,473.6 L652.4,473.7 L652.9,474.5 L653.4,475.6 L653.9,476.6 L654.4,477.0 L654.9,477.9 L655.4,478.2 L655.9,478.7 L656.4,478.2 L656.9,478.3 L657.4,478.5 L657.9,478.7 L658.4,479.8 L658.9,479.6 L659.4,479.7 L659.9,480.1 L660.4,480.8 L660.9,480.9 L661.4,481.4 L661.9,481.6 L662.4,481.2 L662.9,480.5 L663.4,480.5 L663.9,480.4 L664.4,481.2 L664.9,480.9 L665.4,480.5 L665.9,480.8 L666.4,480.8 L666.9,480.4 L667.4,480.9 L667.9,481.0 L668.4,480.8 L668.9,480.4 L669.4,480.1 L669.9,479.6 L670.4,480.0 L670.9,480.2 L671.4,480.0 L671.9,480.2 L672.4,481.4 L672.9,480.7 L673.4,480.1 L673.9,480.6 L674.4,480.6 L674.9,480.6 L675.4,481.0 L675.9,481.0 L676.4,481.4 L676.9,481.5 L677.4,481.8 L677.9,481.7 L678.4,480.9 L678.9,481.7 L679.4,481.2 L679.9,481.8 L680.4,481.9 L680.9,481.5 L681.4,481.8 L681.9,482.2 L682.4,481.9 L682.9,482.1 L683.4,482.0 L683.9,481.9 L684.4,482.0 L684.9,482.7 L685.4,482.9 L685.9,482.8 L686.4,482.8 L686.9,482.9 L687.4,483.0 L687.9,483.1 L688.0,483.0 L690.5,484.1 L692.5,486.0 L694.0,488.9 L695.3,493.6 L696.2,501.7 L696.8,511.9 L697.3,522.1 L697.6,525.5" stroke="#CC9900"/>
<path d="M148.4,523.3 L150.0,523.6 L151.4,524.1 L152.4,524.9 L153.0,525.1 L153.4,525.1 L153.8,525.1 L154.3,524.8 L154.8,524.6 L155.3,524.3 L155.8,524.2 L156.3,524.0 L156.8,523.8 L157.3,523.6 L157.8,523.4 L158.3,523.3 L158.8,523.1 L159.3,523.0 L159.8,522.8 L160.3,522.7 L160.8,522.6 L161.3,522.6 L161.8,522.7 L162.3,522.7 L162.8,522.6 L163.3,522.4 L163.8,522.5 L164.3,522.6 L164.8,522.7 L165.3,522.4 L165.8,522.4 L166.3,522.4 L166.8,522.5 L167.3,522.4 L167.8,522.4 L168.3,522.6 L168.8,522.6 L169.3,522.3 L169.8,522.4 L170.3,522.5 L170.8,522.4 L171.3,522.5 L171.8,522.4 L172.3,522.3 L172.8,522.3 L173.3,522.4 L173.8,522.5 L174.3,522.4 L174.8,522.5 L175.3,522.4 L175.8,522.4 L176.3,522.4 L176.8,522.3 L177.3,522.4 L177.8,522.4 L178.3,522.2 L178.8,522.2 L179.3,522.2 L179.8,522.2 L180.3,522.2 L180.8,522.3 L181.3,522.1 L181.8,522.3 L182.3,522.4 L182.8,522.4 L183.3,522.4 L183.8,522.4 L184.3,522.4 L184.8,522.3 L185.3,522.2 L185.8,522.3 L186.3,522.4 L186.8,522.4 L187.3,522.6 L187.8,522.4 L188.3,522.4 L188.8,522.3 L189.3,522.5 L189.8,522.6 L190.3,522.4 L190.8,522.5 L191.3,522.4 L191.8,522.3 L192.3,522.4 L192.8,522.3 L193.3,522.5 L193.8,522.5 L194.3,522.5 L194.8,522.5 L195.3,522.3 L195.5,522.4 L196.0,522.6 L196.5,523.2 L197.0,524.0 L197.4,524.9 L197.4,524.9 L198.6,524.9 L199.0,524.9 L199.5,524.4 L200.0,524.0 L200.5,523.7 L201.0,523.4 L201.5,523.2 L202.0,522.8 L202.5,522.5 L203.0,522.3 L203.5,521.9 L204.0,521.6 L204.5,521.4 L205.0,521.3 L205.5,521.1 L206.0,520.9 L206.5,520.7 L207.0,520.8 L207.5,520.8 L208.0,520.6 L208.5,520.6 L209.0,520.6 L209.5,520.4 L210.0,520.5 L210.5,520.7 L211.0,520.6 L211.5,520.5 L212.0,520.7 L212.5,520.5 L213.0,520.5 L213.5,520.4 L214.0,520.4 L214.5,520.2 L215.0,520.2 L215.5,520.1 L216.0,520.4 L216.5,520.4 L217.0,520.5 L217.5,520.2 L218.0,520.3 L218.5,520.5 L219.0,520.4 L219.5,520.2 L220.0,520.2 L220.5,520.3 L221.0,520.3 L221.5,520.5 L222.0,520.6 L222.5,520.7 L223.0,520.6 L223.5,520.4 L224.0,520.4 L224.5,520.2 L225.0,520.5 L225.5,520.6 L226.0,520.5 L226.5,520.4 L227.0,520.4 L227.5,520.5 L228.0,520.5 L228.5,520.3 L229.0,520.4 L229.5,520.3 L230.0,520.4 L230.5,520.5 L231.0,520.5 L231.5,520.4 L232.0,520.6 L232.5,520.6 L233.0,520.6 L233.5,520.6 L234.0,520.6 L234.5,520.5 L235.0,520.3 L235.5,520.2 L236.0,520.2 L236.5,520.4 L237.0,520.5 L237.5,520.5 L238.0,520.4 L238.5,520.6 L239.0,520.5 L239.5,520.2 L240.0,520.2 L240.5,520.2 L241.0,520.4 L241.5,520.4 L242.0,520.7 L242.5,521.7 L243.0,523.0 L243.4,524.5 L243.4,524.7 L245.6,524.7 L246.0,524.7 L246.5,523.9 L247.0,523.3 L247.5,522.8 L248.0,522.2 L248.5,521.6 L249.0,521.2 L249.5,520.8 L250.0,520.1 L250.5,519.5 L251.0,519.1 L251.5,519.1 L252.0,518.5 L252.5,518.1 L253.0,518.1 L253.5,518.0 L254.0,517.8 L254.5,517.7 L255.0,517.7 L255.5,517.4 L256.0,517.4 L256.5,517.5 L257.0,517.6 L257.5,517.6 L258.0,517.5 L258.5,517.2 L259.0,517.4 L259.5,517.5 L260.0,517.3 L260.5,517.4 L261.0,517.5 L261.5,517.4 L262.0,517.0 L262.5,517.1 L263.0,517.1 L263.5,517.0 L264.0,517.1 L264.5,517.0 L265.0,517.2 L265.5,517.5 L266.0,517.2 L266.5,517.3 L267.0,517.2 L267.5,517.3 L268.0,517.2 L268.5,517.4 L269.0,517.2 L269.5,517.3 L270.0,517.1 L270.5,517.2 L271.0,517.2 L271.5,517.3 L272.0,517.1 L272.5,516.9 L273.0,517.2 L273.5,517.3 L274.0,517.4 L274.5,517.2 L275.0,517.2 L275.5,517.3 L276.0,517.5 L276.5,517.3 L277.0,517.2 L277.5,517.3 L278.0,517.2 L278.5,517.1 L279.0,517.2 L279.5,516.9 L280.0,516.9 L280.5,517.2 L281.0,517.1 L281.5,517.1 L282.0,517.2 L282.5,517.3 L283.0,517.3 L283.5,517.1 L284.0,517.0 L284.5,517.2 L285.0,517.2 L285.5,517.1 L286.0,517.2 L286.5,517.3 L287.0,517.5 L287.5,517.2 L288.0,517.0 L288.5,517.0 L289.0,517.1 L289.5,517.0 L290.0,517.2 L290.1,517.1 L290.6,517.5 L291.1,519.2 L291.6,521.3 L292.0,523.8 L292.0,524.7 L294.8,524.7 L295.2,524.7 L295.7,523.5 L296.2,522.5 L296.7,521.6 L297.2,520.8 L297.7,520.0 L298.2,519.0 L298.7,518.5 L299.2,517.7 L299.7,517.0 L300.2,516.5 L300.7,515.9 L301.2,515.4 L301.7,515.2 L302.2,515.1 L302.7,515.0 L303.2,514.7 L303.7,514.4 L304.2,514.2 L304.7,514.6 L305.2,514.5 L305.7,514.3 L306.2,514.5 L306.7,514.5 L307.2,514.3 L307.7,514.2 L308.2,514.4 L308.7,514.3 L309.2,514.5 L309.7,514.4 L310.2,514.2 L310.7,514.1 L311.2,514.0 L311.7,514.1 L312.2,514.2 L312.7,514.3 L313.2,514.3 L313.7,514.0 L314.2,514.1 L314.7,513.9 L315.2,514.1 L315.7,513.9 L316.2,513.9 L316.7,513.9 L317.2,513.9 L317.7,514.0 L318.2,514.3 L318.7,514.1 L319.2,513.9 L319.7,514.0 L320.2,514.1 L320.7,514.2 L321.2,514.2 L321.7,514.4 L322.2,514.4 L322.7,514.3 L323.2,514.4 L323.7,514.0 L324.2,514.0 L324.7,513.9 L325.2,514.0 L325.7,514.3 L326.2,514.1 L326.7,514.3 L327.2,514.0 L327.7,514.3 L328.2,513.9 L328.7,513.8 L329.2,514.1 L329.7,514.1 L330.2,514.1 L330.7,514.1 L331.2,514.1 L331.7,514.0 L332.2,513.9 L332.7,513.9 L333.2,514.0 L333.7,513.9 L334.2,514.0 L334.7,514.3 L335.2,513.9 L335.7,513.9 L336.2,513.9 L336.7,514.0 L337.2,514.0 L337.7,513.9 L338.2,513.9 L338.7,514.0 L339.2,514.0 L339.5,514.0 L340.0,514.6 L340.5,516.9 L341.0,519.8 L341.4,523.2 L341.4,524.7 L343.2,524.7 L343.6,524.7 L344.1,522.5 L344.6,520.6 L345.1,518.9 L345.6,517.4 L346.1,515.9 L346.6,514.4 L347.1,512.8 L347.6,511.5 L348.1,511.2 L348.6,510.8 L349.1,510.6 L349.6,510.7 L350.1,510.6 L350.6,510.5 L351.1,510.3 L351.6,509.9 L352.1,510.1 L352.6,510.3 L353.1,510.3 L353.6,510.3 L354.1,510.1 L354.6,510.0 L355.1,509.9 L355.6,510.1 L356.1,509.9 L356.6,510.2 L357.1,510.1 L357.6,509.9 L358.1,509.8 L358.6,509.5 L359.1,509.5 L359.6,509.5 L360.1,510.1 L360.6,509.7 L361.1,509.9 L361.6,509.8 L362.1,509.7 L362.6,509.8 L363.1,509.4 L363.6,509.7 L364.1,510.0 L364.6,509.9 L365.1,509.8 L365.6,509.8 L366.1,509.8 L366.6,509.7 L367.1,509.7 L367.6,509.8 L368.1,509.6 L368.6,509.7 L369.1,509.7 L369.6,509.8 L370.1,509.5 L370.6,509.5 L371.1,509.5 L371.6,509.8 L372.1,509.7 L372.6,509.4 L373.1,509.3 L373.6,509.8 L374.1,509.8 L374.6,509.4 L375.1,509.4 L375.6,509.5 L376.1,509.8 L376.6,510.0 L377.1,509.7 L377.6,509.6 L378.1,509.9 L378.6,509.6 L379.1,509.9 L379.6,509.8 L380.1,509.7 L380.6,509.9 L381.1,509.8 L381.6,509.5 L382.1,509.3 L382.6,509.4 L383.1,509.6 L383.6,509.8 L384.1,509.2 L384.6,509.6 L385.1,509.7 L385.6,509.9 L386.1,509.8 L386.6,509.7 L387.1,509.7 L387.6,509.7 L388.1,509.5 L388.6,509.5 L389.0,509.5 L389.5,510.3 L390.0,513.5 L390.5,517.5 L390.9,522.3 L390.9,524.7 L391.7,524.7 L392.1,524.7 L392.6,521.8 L393.1,519.5 L393.6,517.3 L394.1,515.4 L394.6,513.6 L395.1,511.7 L395.6,509.7 L396.1,508.1 L396.6,507.6 L397.1,506.8 L397.6,507.1 L398.1,506.5 L398.6,506.9 L399.1,506.6 L399.6,506.3 L400.1,505.7 L400.6,505.7 L401.1,506.1 L401.6,506.2 L402.1,506.1 L402.6,505.6 L403.1,505.6 L403.6,505.6 L404.1,505.7 L404.6,505.7 L405.1,505.8 L405.6,505.4 L406.1,505.4 L406.6,505.8 L407.1,505.4 L407.6,505.7 L408.1,506.1 L408.6,506.0 L409.1,505.5 L409.6,505.8 L410.1,505.3 L410.6,505.5 L411.1,505.5 L411.6,505.8 L412.1,505.9 L412.6,505.8 L413.1,506.1 L413.6,506.0 L414.1,505.7 L414.6,505.4 L415.1,506.0 L415.6,505.7 L416.1,505.7 L416.6,505.6 L417.1,505.5 L417.6,505.2 L418.1,505.3 L418.6,505.4 L419.1,505.7 L419.6,505.5 L420.1,505.2 L420.6,505.1 L421.1,505.3 L421.6,505.5 L422.1,505.6 L422.6,505.5 L423.1,505.6 L423.6,505.6 L424.1,505.9 L424.6,505.7 L425.1,505.6 L425.6,505.7 L426.1,505.8 L426.6,505.5 L427.1,505.4 L427.6,505.4 L428.1,505.0 L428.6,505.5 L429.1,505.7 L429.6,505.6 L430.1,506.2 L430.6,506.1 L431.1,506.2 L431.6,506.1 L432.1,506.0 L432.6,505.4 L433.1,505.7 L433.6,505.7 L434.1,505.3 L434.6,505.4 L435.1,505.6 L435.6,505.7 L436.1,505.6 L436.6,505.4 L437.1,505.6 L437.6,505.3 L438.1,505.3 L438.1,505.4 L438.6,506.4 L439.1,510.4 L439.6,515.5 L440.0,521.5 L440.0,524.7 L440.6,524.7 L441.0,524.7 L441.5,520.7 L442.0,517.6 L442.5,514.5 L443.0,511.7 L443.5,508.9 L444.0,506.5 L444.5,504.1 L445.0,501.7 L445.5,501.3 L446.0,500.7 L446.5,500.2 L447.0,500.0 L447.5,499.7 L448.0,499.5 L448.5,499.6 L449.0,499.2 L449.5,499.4 L450.0,498.9 L450.5,498.9 L451.0,498.5 L451.5,498.6 L452.0,499.2 L452.5,499.1 L453.0,499.3 L453.5,498.8 L454.0,498.6 L454.5,498.9 L455.0,499.2 L455.5,499.3 L456.0,498.8 L456.5,499.0 L457.0,499.0 L457.5,499.0 L458.0,499.1 L458.5,499.0 L459.0,498.6 L459.5,498.5 L460.0,498.4 L460.5,498.4 L461.0,498.6 L461.5,499.1 L462.0,498.9 L462.5,498.7 L463.0,498.6 L463.5,498.3 L464.0,498.7 L464.5,498.7 L465.0,498.8 L465.5,498.6 L466.0,498.9 L466.5,498.6 L467.0,498.9 L467.5,498.8 L468.0,499.0 L468.5,498.8 L469.0,498.9 L469.5,499.0 L470.0,499.0 L470.5,499.3 L471.0,499.2 L471.5,498.8 L472.0,499.0 L472.5,498.8 L473.0,498.7 L473.5,498.8 L474.0,498.9 L474.5,499.3 L475.0,498.7 L475.5,498.7 L476.0,499.1 L476.5,498.9 L477.0,499.0 L477.5,499.3 L478.0,498.8 L478.5,498.8 L479.0,499.0 L479.5,498.8 L480.0,498.4 L480.5,498.4 L481.0,498.7 L481.5,498.8 L482.0,499.3 L482.5,499.4 L483.0,498.7 L483.5,499.0 L484.0,499.1 L484.5,499.4 L485.0,499.1 L485.5,498.8 L486.0,498.8 L486.5,499.2 L487.0,499.2 L487.5,499.4 L488.0,499.3 L488.5,498.9 L488.7,498.8 L489.2,500.1 L489.7,505.5 L490.2,512.1 L490.6,520.2 L490.6,524.7 L491.0,524.7 L491.4,524.7 L491.9,519.8 L492.4,515.7 L492.9,511.9 L493.4,508.4 L493.9,504.9 L494.4,501.6 L494.9,498.5 L495.4,496.0 L495.9,495.0 L496.4,494.2 L496.9,493.8 L497.4,493.7 L497.9,493.0 L498.4,492.8 L498.9,492.2 L499.4,492.6 L499.9,492.7 L500.4,493.0 L500.9,492.4 L501.4,493.0 L501.9,493.0 L502.4,492.7 L502.9,492.5 L503.4,492.4 L503.9,492.2 L504.4,492.6 L504.9,492.5 L505.4,492.4 L505.9,492.8 L506.4,492.8 L506.9,492.7 L507.4,492.8 L507.9,492.8 L508.4,493.3 L508.9,493.4 L509.4,493.0 L509.9,493.0 L510.4,493.3 L510.9,493.1 L511.4,493.5 L511.9,493.3 L512.4,493.3 L512.9,492.5 L513.4,492.9 L513.9,493.0 L514.4,493.1 L514.9,493.1 L515.4,493.1 L515.9,492.8 L516.4,493.1 L516.9,493.0 L517.4,492.6 L517.9,492.4 L518.4,492.6 L518.9,492.8 L519.4,492.2 L519.9,491.9 L520.4,492.6 L520.9,492.7 L521.4,493.5 L521.9,492.7 L522.4,492.6 L522.9,492.5 L523.4,492.7 L523.9,493.1 L524.4,493.3 L524.9,492.7 L525.4,493.0 L525.9,492.5 L526.4,492.6 L526.9,492.7 L527.4,492.8 L527.9,492.5 L528.4,492.9 L528.9,492.7 L529.4,492.6 L529.9,492.5 L530.4,492.2 L530.9,492.6 L531.4,492.6 L531.9,492.7 L532.4,493.1 L532.9,492.6 L533.4,492.4 L533.9,492.5 L534.4,492.7 L534.9,492.5 L535.4,492.7 L535.9,492.7 L536.4,492.1 L536.9,492.1 L537.4,491.7 L537.9,492.0 L538.1,492.4 L538.6,494.1 L539.1,500.7 L539.6,508.9 L540.0,518.9 L540.0,524.7 L540.4,524.7 L540.8,524.7 L541.3,518.9 L541.8,514.2 L542.3,509.9 L542.8,505.9 L543.3,502.0 L543.8,497.8 L544.3,494.0 L544.8,490.5 L545.3,490.2 L545.8,489.2 L546.3,488.5 L546.8,488.1 L547.3,487.9 L547.8,487.5 L548.3,487.3 L548.8,486.9 L549.3,486.7 L549.8,486.4 L550.3,486.7 L550.8,486.5 L551.3,486.7 L551.8,486.7 L552.3,486.9 L552.8,486.0 L553.3,486.0 L553.8,485.9 L554.3,486.2 L554.8,486.7 L555.3,487.4 L555.8,487.5 L556.3,487.5 L556.8,487.3 L557.3,486.9 L557.8,487.0 L558.3,486.3 L558.8,486.8 L559.3,486.8 L559.8,487.0 L560.3,486.6 L560.8,486.4 L561.3,486.4 L561.8,486.6 L562.3,486.8 L562.8,486.7 L563.3,486.8 L563.8,487.0 L564.3,486.5 L564.8,486.6 L565.3,486.2 L565.8,486.3 L566.3,486.8 L566.8,486.5 L567.3,487.2 L567.8,487.1 L568.3,487.2 L568.8,487.0 L569.3,487.1 L569.8,487.2 L570.3,487.0 L570.8,486.7 L571.3,486.5 L571.8,487.2 L572.3,486.8 L572.8,486.6 L573.3,486.4 L573.8,486.0 L574.3,486.2 L574.8,486.5 L575.3,486.4 L575.8,486.3 L576.3,486.6 L576.8,486.7 L577.3,486.5 L577.8,486.7 L578.3,486.3 L578.8,486.7 L579.3,486.4 L579.8,486.4 L580.3,486.5 L580.8,486.4 L581.3,486.2 L581.8,487.0 L582.3,487.2 L582.8,486.4 L583.3,486.5 L583.8,486.1 L584.3,486.4 L584.8,486.1 L585.3,486.5 L585.8,486.7 L586.3,487.1 L586.8,487.2 L587.3,486.7 L587.8,486.9 L588.3,486.6 L588.8,486.5 L589.0,486.5 L589.5,488.4 L590.0,496.2 L590.5,506.0 L590.9,517.7 L590.9,524.7 L591.3,524.7 L591.7,524.7 L592.2,517.3 L592.7,511.6 L593.2,506.0 L593.7,501.0 L594.2,496.2 L594.7,491.5 L595.2,486.4 L595.7,481.9 L596.2,481.2 L596.7,480.7 L597.2,480.3 L597.7,478.8 L598.2,478.6 L598.7,478.0 L599.2,478.0 L599.7,477.1 L600.2,477.1 L600.7,477.3 L601.2,476.9 L601.7,476.8 L602.2,476.5 L602.7,477.0 L603.2,476.5 L603.7,476.3 L604.2,476.4 L604.7,476.5 L605.2,477.3 L605.7,477.1 L606.2,476.6 L606.7,476.8 L607.2,476.9 L607.7,476.9 L608.2,476.8 L608.7,476.9 L609.2,476.4 L609.7,476.2 L610.2,476.3 L610.7,476.2 L611.2,476.7 L611.7,477.4 L612.2,477.5 L612.7,477.3 L613.2,477.1 L613.7,476.7 L614.2,476.3 L614.7,476.7 L615.2,476.2 L615.7,476.5 L616.2,476.5 L616.7,476.7 L617.2,476.6 L617.7,476.5 L618.2,476.2 L618.7,475.6 L619.2,475.8 L619.7,476.2 L620.2,476.5 L620.7,476.7 L621.2,476.0 L621.7,475.6 L622.2,475.9 L622.7,475.7 L623.2,476.5 L623.7,476.2 L624.2,475.4 L624.7,475.3 L625.2,475.9 L625.7,475.0 L626.2,475.2 L626.7,474.8 L627.2,475.5 L627.7,475.2 L628.2,474.8 L628.7,474.3 L629.2,474.4 L629.7,473.8 L630.2,474.2 L630.7,475.2 L631.2,475.0 L631.7,474.7 L632.2,474.3 L632.7,474.5 L633.2,474.3 L633.7,474.1 L634.2,474.7 L634.7,474.6 L635.2,474.1 L635.7,474.6 L636.2,474.4 L636.7,474.4 L637.2,474.2 L637.7,474.5 L638.2,474.4 L638.7,474.0 L639.2,474.1 L639.7,473.8 L640.2,473.7 L640.7,474.2 L641.2,473.5 L641.7,473.1 L642.2,473.1 L642.5,473.4 L643.0,476.0 L643.5,486.4 L644.0,499.4 L644.4,515.1 L644.3,525.3 L645.5,410.6 L647.6,494.0 L649.7,480.5 L650.4,450.5 L650.9,451.0 L651.4,452.5 L651.9,452.6 L652.4,454.6 L652.9,455.7 L653.4,455.8 L653.9,456.4 L654.4,456.8 L654.9,457.7 L655.4,458.5 L655.9,459.3 L656.4,459.7 L656.9,460.5 L657.4,460.3 L657.9,460.7 L658.4,460.7 L658.9,460.9 L659.4,461.3 L659.9,461.5 L660.4,461.9 L660.9,461.9 L661.4,462.2 L661.9,462.3 L662.4,461.9 L662.9,461.9 L663.4,461.9 L663.9,462.0 L664.4,461.5 L664.9,461.7 L665.4,461.4 L665.9,461.3 L666.4,461.7 L666.9,462.1 L667.4,462.0 L667.9,461.6 L668.4,461.4 L668.9,461.9 L669.4,461.0 L669.9,461.6 L670.4,460.9 L670.9,460.8 L671.4,461.0 L671.9,461.1 L672.4,461.9 L672.9,461.9 L673.4,461.8 L673.9,462.1 L674.4,461.9 L674.9,461.6 L675.4,462.2 L675.9,462.6 L676.4,462.8 L676.9,462.0 L677.4,462.8 L677.9,462.4 L678.4,462.7 L678.9,463.0 L679.4,463.7 L679.9,462.5 L680.4,462.2 L680.9,462.9 L681.4,463.0 L681.9,462.8 L682.4,461.8 L682.9,462.5 L683.4,462.7 L683.9,461.9 L684.4,463.5 L684.9,462.4 L685.4,462.6 L685.9,463.0 L686.4,463.3 L686.9,463.6 L687.4,463.5 L687.9,463.2 L688.0,463.5 L690.5,465.1 L692.5,467.8 L694.0,472.2 L695.3,479.0 L696.2,490.8 L696.8,505.7 L697.3,520.5 L697.6,525.5" stroke="#00CBCC"/>
</g>
<!-- annotation boxes -->
<rect x="175.4" y="307.7" width="112.1" height="43" fill="#fff"/>
<text transform="translate(174.8,343.6) scale(0.918,1)" font-size="42.3">C/O&gt;</text>
<path d="M704.0,133.7 L700.6,133.7 L700.6,113.9 L694.2,113.9 L694.2,111.2 C697.5,110.8 699.8,108.8 701.2,105.6 L704.0,105.6 Z" transform="translate(-424.2,209)" fill="#000"/>
<rect x="599.7" y="98.9" width="111.3" height="43.1" fill="#fff"/>
<text transform="translate(599.1,134.7) scale(0.918,1)" font-size="42.3">C/O&gt;</text>
<path d="M704.0,133.7 L700.6,133.7 L700.6,113.9 L694.2,113.9 L694.2,111.2 C697.5,110.8 699.8,108.8 701.2,105.6 L704.0,105.6 Z" fill="#000"/>
<g font-size="30.4" text-anchor="middle">
<path d="M704.0,133.7 L700.6,133.7 L700.6,113.9 L694.2,113.9 L694.2,111.2 C697.5,110.8 699.8,108.8 701.2,105.6 L704.0,105.6 Z" transform="translate(182.1,442.8) scale(0.9,0.744) translate(-704,-133.7)" fill="#000"/>
<text x="228.9" y="442.7">2</text>
<text x="270.4" y="442.7">3</text>
<text x="311.4" y="442.7">4</text>
<text x="667.2" y="442.9">5</text>
</g>
<!-- tick labels -->
<text transform="translate(138.80,533.00) scale(0.937,1)" text-anchor="end" font-size="20.4">0.0</text>
<text transform="translate(119.70,459.57) scale(0.937,1)" text-anchor="end" font-size="20.4">2.0x10</text>
<text transform="translate(120.00,451.47) scale(0.940,1)" text-anchor="start" font-size="13.5">-13</text>
<text transform="translate(119.70,386.14) scale(0.937,1)" text-anchor="end" font-size="20.4">4.0x10</text>
<text transform="translate(120.00,378.04) scale(0.940,1)" text-anchor="start" font-size="13.5">-13</text>
<text transform="translate(119.70,312.71) scale(0.937,1)" text-anchor="end" font-size="20.4">6.0x10</text>
<text transform="translate(120.00,304.61) scale(0.940,1)" text-anchor="start" font-size="13.5">-13</text>
<text transform="translate(119.70,239.28) scale(0.937,1)" text-anchor="end" font-size="20.4">8.0x10</text>
<text transform="translate(120.00,231.18) scale(0.940,1)" text-anchor="start" font-size="13.5">-13</text>
<text transform="translate(119.70,165.85) scale(0.937,1)" text-anchor="end" font-size="20.4">1.0x10</text>
<text transform="translate(120.00,157.75) scale(0.940,1)" text-anchor="start" font-size="13.5">-12</text>
<text transform="translate(119.70,92.42) scale(0.937,1)" text-anchor="end" font-size="20.4">1.2x10</text>
<text transform="translate(120.00,84.32) scale(0.940,1)" text-anchor="start" font-size="13.5">-12</text>
<text transform="translate(302.20,558.60) scale(0.937,1)" text-anchor="end" font-size="20.4">4.7890x10</text>
<text transform="translate(303.30,550.30) scale(0.940,1)" text-anchor="start" font-size="13.5">15</text>
<text transform="translate(430.40,558.60) scale(0.937,1)" text-anchor="end" font-size="20.4">4.7895x10</text>
<text transform="translate(431.50,550.30) scale(0.940,1)" text-anchor="start" font-size="13.5">15</text>
<text transform="translate(559.10,558.60) scale(0.937,1)" text-anchor="end" font-size="20.4">4.7900x10</text>
<text transform="translate(560.20,550.30) scale(0.940,1)" text-anchor="start" font-size="13.5">15</text>
<text transform="translate(687.50,558.60) scale(0.937,1)" text-anchor="end" font-size="20.4">4.7905x10</text>
<text transform="translate(688.60,550.30) scale(0.940,1)" text-anchor="start" font-size="13.5">15</text>
<text transform="translate(430.8,594) scale(0.99,1)" text-anchor="middle" font-size="23.7">Time(s)</text>
<text transform="translate(52.6,302) rotate(-90) scale(0.99,1)" text-anchor="middle" font-size="24">Abundance</text>
</svg>
</body></html>
